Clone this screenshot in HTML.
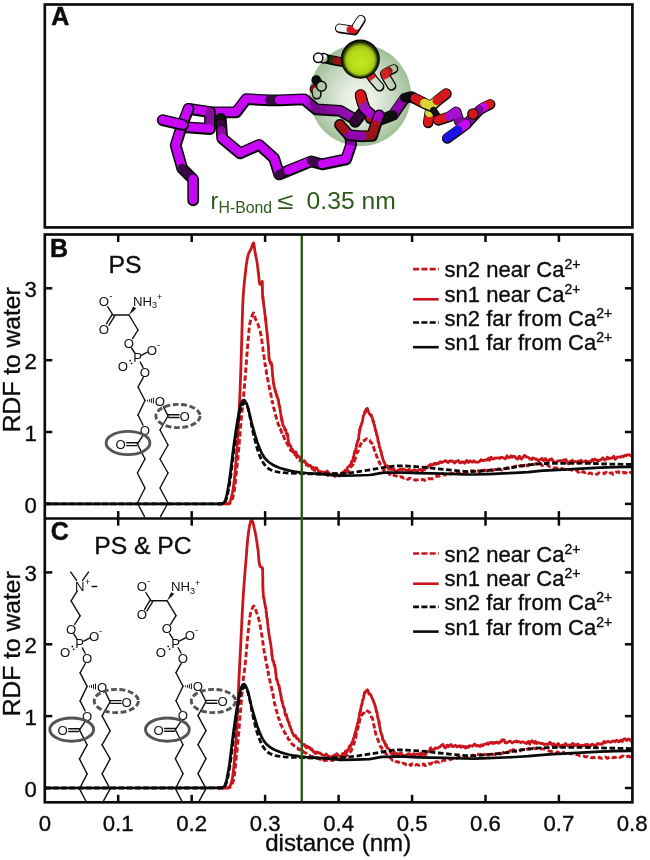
<!DOCTYPE html>
<html lang="en"><head><meta charset="utf-8"><title>RDF to water</title>
<style>html,body{margin:0;padding:0;background:#fff}body{width:650px;height:860px;overflow:hidden}svg{display:block}</style>
</head><body>
<svg width="650" height="860" viewBox="0 0 650 860" font-family="'Liberation Sans', sans-serif">
<rect width="650" height="860" fill="#fff"/>
<g id="panelA">
<defs>
<radialGradient id="sph" cx="0.5" cy="0.5" r="0.5" fx="0.5" fy="0.55">
<stop offset="0" stop-color="#f3f7f1"/>
<stop offset="0.3" stop-color="#e6eee2"/>
<stop offset="0.6" stop-color="#cbdcc5"/>
<stop offset="0.85" stop-color="#b2cbaa"/>
<stop offset="1" stop-color="#a0bf98"/>
</radialGradient>
<radialGradient id="ca" cx="0.5" cy="0.5" r="0.5" fx="0.5" fy="0.62">
<stop offset="0" stop-color="#c6e624"/>
<stop offset="0.55" stop-color="#b4da18"/>
<stop offset="0.72" stop-color="#a2c814"/>
<stop offset="0.80" stop-color="#6c8a0e"/>
<stop offset="0.88" stop-color="#263208"/>
<stop offset="0.95" stop-color="#0a0e03"/>
<stop offset="1" stop-color="#030401"/>
</radialGradient>
</defs>
<path d="M211.0,112.0 L236.0,112.0 L246.0,98.8 L269.0,100.0 L279.0,100.0 L304.0,99.0 L310.0,104.0 L316.0,109.0 L340.0,110.5 L353.0,118.0" stroke="#0a0a0a" stroke-width="11.8" fill="none" stroke-linecap="round" stroke-linejoin="round" transform="translate(0.2,0.4)"/>
<path d="M211.0,112.0 L236.0,112.0 L246.0,98.8 L269.0,100.0" stroke="#c706f6" stroke-width="8.4" fill="none" stroke-linecap="round" stroke-linejoin="round"/>
<path d="M269.0,100.0 L279.0,100.0" stroke="#3a0a44" stroke-width="8.4" fill="none" stroke-linecap="round" stroke-linejoin="round"/>
<path d="M279.0,100.0 L304.0,99.0 L310.0,104.0" stroke="#c706f6" stroke-width="8.4" fill="none" stroke-linecap="round" stroke-linejoin="round"/>
<path d="M310.0,104.0 L316.0,109.0 L340.0,110.5 L353.0,118.0" stroke="#a90cd2" stroke-width="8.4" fill="none" stroke-linecap="round" stroke-linejoin="round"/>
<path d="M355.0,121.5 L362.0,112.5" stroke="#0a0a0a" stroke-width="11.8" fill="none" stroke-linecap="round" stroke-linejoin="round" transform="translate(0.2,0.4)"/>
<path d="M355.0,121.5 L362.0,112.5" stroke="#3a0a44" stroke-width="8.4" fill="none" stroke-linecap="round" stroke-linejoin="round"/>
<path d="M370.5,118.0 L371.0,114.5 L365.0,109.0 L362.6,103.0 L360.4,94.8" stroke="#0a0a0a" stroke-width="11.8" fill="none" stroke-linecap="round" stroke-linejoin="round" transform="translate(0.2,0.4)"/>
<path d="M370.5,118.0 L371.0,114.5" stroke="#d4181c" stroke-width="8.4" fill="none" stroke-linecap="round" stroke-linejoin="round"/>
<path d="M371.0,114.5 L365.0,109.0 L362.6,103.0" stroke="#c706f6" stroke-width="8.4" fill="none" stroke-linecap="round" stroke-linejoin="round"/>
<path d="M362.6,103.0 L360.4,94.8" stroke="#d4181c" stroke-width="8.4" fill="none" stroke-linecap="round" stroke-linejoin="round"/>
<path d="M428.0,122.5 L429.5,113.0 L431.0,106.0" stroke="#0a0a0a" stroke-width="10.6" fill="none" stroke-linecap="round" stroke-linejoin="round" transform="translate(0.2,0.4)"/>
<path d="M428.0,122.5 L429.5,113.0" stroke="#d4181c" stroke-width="8.6" fill="none" stroke-linecap="round" stroke-linejoin="round"/>
<path d="M429.5,113.0 L431.0,106.0" stroke="#d6d63a" stroke-width="8.6" fill="none" stroke-linecap="round" stroke-linejoin="round"/>
<path d="M380.5,119.5 L393.0,114.6 L404.6,98.0 L411.5,96.4 L415.0,98.4 L424.5,103.2 L431.0,106.0 L437.0,100.5 L446.0,93.5" stroke="#0a0a0a" stroke-width="11.2" fill="none" stroke-linecap="round" stroke-linejoin="round" transform="translate(0.2,0.4)"/>
<path d="M393.0,114.6 L404.6,98.0" stroke="#c706f6" stroke-width="8.9" fill="none" stroke-linecap="round" stroke-linejoin="round"/>
<path d="M404.6,98.0 L411.5,96.4 L415.0,98.4" stroke="#111111" stroke-width="8.9" fill="none" stroke-linecap="round" stroke-linejoin="round"/>
<path d="M415.0,98.4 L424.5,103.2" stroke="#d4181c" stroke-width="8.9" fill="none" stroke-linecap="round" stroke-linejoin="round"/>
<path d="M424.5,103.2 L431.0,106.0 L437.0,100.5" stroke="#d6d63a" stroke-width="8.9" fill="none" stroke-linecap="round" stroke-linejoin="round"/>
<path d="M437.0,100.5 L446.0,93.5" stroke="#d4181c" stroke-width="8.9" fill="none" stroke-linecap="round" stroke-linejoin="round"/>
<path d="M380.5,119.5 L393.0,114.6" stroke="#111112" stroke-width="8.9" fill="none" stroke-linecap="round" stroke-linejoin="round"/>
<path d="M433.5,110.0 L436.5,114.5" stroke="#0a0a0a" stroke-width="6.4" fill="none" stroke-linecap="round" stroke-linejoin="round" transform="translate(0.2,0.4)"/>
<path d="M433.5,110.0 L436.5,114.5" stroke="#111111" stroke-width="6.4" fill="none" stroke-linecap="round" stroke-linejoin="round"/>
<path d="M220.6,118.5 L221.0,124.0 L221.5,130.5 L222.0,138.0 L240.0,153.0 L259.0,144.5 L274.0,158.0 L279.0,174.0 L288.0,170.4 L311.0,161.0 L322.0,164.0 L346.0,159.0 L351.0,144.0 L350.0,135.5" stroke="#0a0a0a" stroke-width="11.8" fill="none" stroke-linecap="round" stroke-linejoin="round" transform="translate(0.2,0.4)"/>
<path d="M220.6,118.5 L221.0,124.0" stroke="#111111" stroke-width="8.4" fill="none" stroke-linecap="round" stroke-linejoin="round"/>
<path d="M221.0,124.0 L221.5,130.5" stroke="#3a0a44" stroke-width="8.4" fill="none" stroke-linecap="round" stroke-linejoin="round"/>
<path d="M221.5,130.5 L222.0,138.0" stroke="#8a0e9c" stroke-width="8.4" fill="none" stroke-linecap="round" stroke-linejoin="round"/>
<path d="M222.0,138.0 L240.0,153.0 L259.0,144.5 L274.0,158.0 L279.0,174.0" stroke="#c706f6" stroke-width="8.4" fill="none" stroke-linecap="round" stroke-linejoin="round"/>
<path d="M279.0,174.0 L288.0,170.4" stroke="#3a0a44" stroke-width="8.4" fill="none" stroke-linecap="round" stroke-linejoin="round"/>
<path d="M288.0,170.4 L311.0,161.0" stroke="#c706f6" stroke-width="8.4" fill="none" stroke-linecap="round" stroke-linejoin="round"/>
<path d="M311.0,161.0 L322.0,164.0" stroke="#3a0a44" stroke-width="8.4" fill="none" stroke-linecap="round" stroke-linejoin="round"/>
<path d="M322.0,164.0 L346.0,159.0 L351.0,144.0 L350.0,135.5" stroke="#c706f6" stroke-width="8.4" fill="none" stroke-linecap="round" stroke-linejoin="round"/>
<path d="M379.0,115.0 L375.6,124.5 L372.0,135.5 L362.5,136.0 L349.0,135.0 L344.5,130.0 L339.8,124.6" stroke="#0a0a0a" stroke-width="11.8" fill="none" stroke-linecap="round" stroke-linejoin="round" transform="translate(0.2,0.4)"/>
<path d="M379.0,115.0 L375.6,124.5" stroke="#c706f6" stroke-width="8.4" fill="none" stroke-linecap="round" stroke-linejoin="round"/>
<path d="M375.6,124.5 L372.0,135.5 L362.5,136.0" stroke="#d4181c" stroke-width="8.4" fill="none" stroke-linecap="round" stroke-linejoin="round"/>
<path d="M362.5,136.0 L349.0,135.0 L344.5,130.0" stroke="#c706f6" stroke-width="8.4" fill="none" stroke-linecap="round" stroke-linejoin="round"/>
<path d="M344.5,130.0 L339.8,124.6" stroke="#d4181c" stroke-width="8.4" fill="none" stroke-linecap="round" stroke-linejoin="round"/>
<path d="M490.0,104.0 L483.5,107.2 L479.5,109.6 L466.0,124.0" stroke="#0a0a0a" stroke-width="10.6" fill="none" stroke-linecap="round" stroke-linejoin="round" transform="translate(0.2,0.4)"/>
<path d="M490.0,104.0 L483.5,107.2" stroke="#d4181c" stroke-width="8.6" fill="none" stroke-linecap="round" stroke-linejoin="round"/>
<path d="M483.5,107.2 L479.5,109.6" stroke="#c706f6" stroke-width="8.6" fill="none" stroke-linecap="round" stroke-linejoin="round"/>
<path d="M479.5,109.6 L466.0,124.0" stroke="#7c0c9c" stroke-width="8.6" fill="none" stroke-linecap="round" stroke-linejoin="round"/>
<path d="M438.0,120.0 L449.0,116.5 L456.0,111.5 L459.0,121.0 L466.0,124.0 L458.0,130.0 L447.0,138.0" stroke="#0a0a0a" stroke-width="10.6" fill="none" stroke-linecap="round" stroke-linejoin="round" transform="translate(0.2,0.4)"/>
<path d="M438.0,120.0 L449.0,116.5" stroke="#d4181c" stroke-width="8.6" fill="none" stroke-linecap="round" stroke-linejoin="round"/>
<path d="M449.0,116.5 L456.0,111.5 L459.0,121.0" stroke="#a40fd0" stroke-width="8.6" fill="none" stroke-linecap="round" stroke-linejoin="round"/>
<path d="M459.0,121.0 L466.0,124.0" stroke="#7c0c9c" stroke-width="8.6" fill="none" stroke-linecap="round" stroke-linejoin="round"/>
<path d="M466.0,124.0 L458.0,130.0" stroke="#c706f6" stroke-width="8.6" fill="none" stroke-linecap="round" stroke-linejoin="round"/>
<path d="M458.0,130.0 L447.0,138.0" stroke="#1c12e6" stroke-width="8.6" fill="none" stroke-linecap="round" stroke-linejoin="round"/>
<circle cx="473" cy="114" r="5.3" fill="#d4181c" stroke="#0a0a0a" stroke-width="1.1"/>
<path d="M188.4,108.4 L209.8,111.8 L209.8,128.6 L186.0,127.0" stroke="#0a0a0a" stroke-width="11.8" fill="none" stroke-linecap="round" stroke-linejoin="round" transform="translate(0.2,0.4)"/>
<path d="M188.4,108.4 L209.8,111.8" stroke="#c706f6" stroke-width="8.4" fill="none" stroke-linecap="round" stroke-linejoin="round"/>
<path d="M209.8,111.8 L209.8,128.6" stroke="#8a0e9c" stroke-width="8.4" fill="none" stroke-linecap="round" stroke-linejoin="round"/>
<path d="M209.8,128.6 L186.0,127.0" stroke="#c706f6" stroke-width="8.4" fill="none" stroke-linecap="round" stroke-linejoin="round"/>
<path d="M188.4,108.4 L181.5,126.0 L175.5,145.0 L182.0,168.0 L193.0,179.0 L193.0,200.0" stroke="#0a0a0a" stroke-width="11.8" fill="none" stroke-linecap="round" stroke-linejoin="round" transform="translate(0.2,0.4)"/>
<path d="M188.4,108.4 L181.5,126.0 L175.5,145.0 L182.0,168.0" stroke="#c706f6" stroke-width="8.4" fill="none" stroke-linecap="round" stroke-linejoin="round"/>
<path d="M182.0,168.0 L193.0,179.0" stroke="#3a0a44" stroke-width="8.4" fill="none" stroke-linecap="round" stroke-linejoin="round"/>
<path d="M193.0,179.0 L193.0,200.0" stroke="#c706f6" stroke-width="8.4" fill="none" stroke-linecap="round" stroke-linejoin="round"/>
<path d="M162.5,119.8 L183.0,124.6" stroke="#0a0a0a" stroke-width="11.8" fill="none" stroke-linecap="round" stroke-linejoin="round" transform="translate(0.2,0.4)"/>
<path d="M162.5,119.8 L183.0,124.6" stroke="#c706f6" stroke-width="8.4" fill="none" stroke-linecap="round" stroke-linejoin="round"/>
<path d="M339.5,28.0 L350.0,29.6 L354.0,30.2 L356.6,26.0 L360.8,19.4" stroke="#0a0a0a" stroke-width="9.6" fill="none" stroke-linecap="round" stroke-linejoin="round" transform="translate(0.2,0.4)"/>
<path d="M339.5,28.0 L350.0,29.6" stroke="#f6f6f6" stroke-width="7.0" fill="none" stroke-linecap="round" stroke-linejoin="round"/>
<path d="M350.0,29.6 L354.0,30.2 L356.6,26.0" stroke="#d4181c" stroke-width="7.0" fill="none" stroke-linecap="round" stroke-linejoin="round"/>
<path d="M356.6,26.0 L360.8,19.4" stroke="#f6f6f6" stroke-width="7.0" fill="none" stroke-linecap="round" stroke-linejoin="round"/>
<path d="M326.0,58.5 L332.0,59.8 L336.0,60.6 L343.0,62.0" stroke="#0a0a0a" stroke-width="9.6" fill="none" stroke-linecap="round" stroke-linejoin="round" transform="translate(0.2,0.4)"/>
<path d="M326.0,58.5 L332.0,59.8" stroke="#111111" stroke-width="7.0" fill="none" stroke-linecap="round" stroke-linejoin="round"/>
<path d="M332.0,59.8 L336.0,60.6" stroke="#33401f" stroke-width="7.0" fill="none" stroke-linecap="round" stroke-linejoin="round"/>
<path d="M336.0,60.6 L343.0,62.0" stroke="#d4181c" stroke-width="7.0" fill="none" stroke-linecap="round" stroke-linejoin="round"/>
<circle cx="323.6" cy="58.2" r="4.7" fill="#f6f6f6" stroke="#0a0a0a" stroke-width="1.5"/>
<circle cx="318.2" cy="57.8" r="4.7" fill="#f6f6f6" stroke="#0a0a0a" stroke-width="1.5"/>
<path d="M316.0,79.6 L318.5,84.0" stroke="#0a0a0a" stroke-width="9.6" fill="none" stroke-linecap="round" stroke-linejoin="round" transform="translate(0.2,0.4)"/>
<path d="M316.0,79.6 L318.5,84.0" stroke="#111111" stroke-width="7.0" fill="none" stroke-linecap="round" stroke-linejoin="round"/>
<path d="M314.2,88.6 L316.4,91.0 L316.6,94.4" stroke="#0a0a0a" stroke-width="9.6" fill="none" stroke-linecap="round" stroke-linejoin="round" transform="translate(0.2,0.4)"/>
<path d="M314.2,88.6 L316.4,91.0" stroke="#d4181c" stroke-width="7.0" fill="none" stroke-linecap="round" stroke-linejoin="round"/>
<path d="M316.4,91.0 L316.6,94.4" stroke="#f6f6f6" stroke-width="7.0" fill="none" stroke-linecap="round" stroke-linejoin="round"/>
<circle cx="321.4" cy="86.2" r="4.9" fill="#f6f6f6" stroke="#0a0a0a" stroke-width="1.5"/>
<path d="M368.0,72.0 L373.0,79.0 L379.4,86.4" stroke="#0a0a0a" stroke-width="9.6" fill="none" stroke-linecap="round" stroke-linejoin="round" transform="translate(0.2,0.4)"/>
<path d="M368.0,72.0 L373.0,79.0" stroke="#d4181c" stroke-width="7.0" fill="none" stroke-linecap="round" stroke-linejoin="round"/>
<path d="M373.0,79.0 L379.4,86.4" stroke="#f6f6f6" stroke-width="7.0" fill="none" stroke-linecap="round" stroke-linejoin="round"/>
<path d="M393.4,68.6 L389.0,70.6 L384.6,73.4 L387.0,78.4 L391.4,85.6" stroke="#0a0a0a" stroke-width="9.6" fill="none" stroke-linecap="round" stroke-linejoin="round" transform="translate(0.2,0.4)"/>
<path d="M393.4,68.6 L389.0,70.6" stroke="#f6f6f6" stroke-width="7.0" fill="none" stroke-linecap="round" stroke-linejoin="round"/>
<path d="M389.0,70.6 L384.6,73.4 L387.0,78.4" stroke="#d4181c" stroke-width="7.0" fill="none" stroke-linecap="round" stroke-linejoin="round"/>
<path d="M387.0,78.4 L391.4,85.6" stroke="#f6f6f6" stroke-width="7.0" fill="none" stroke-linecap="round" stroke-linejoin="round"/>
<circle cx="360.2" cy="95.3" r="50.8" fill="url(#sph)" style="mix-blend-mode:multiply"/>
<path d="M362.6,103.0 L360.4,94.8" stroke="#0a0a0a" stroke-width="11.6" fill="none" stroke-linecap="round" stroke-linejoin="round" transform="translate(0.2,0.4)"/>
<path d="M362.6,103.0 L360.4,94.8" stroke="#d4181c" stroke-width="9.4" fill="none" stroke-linecap="round" stroke-linejoin="round"/>
<path d="M365,109 L362.6,103" stroke="#9a1aae" stroke-width="9.4" stroke-linecap="butt" fill="none"/>
<path d="M368,72 L373,79" stroke="#cf2420" stroke-width="7.4" fill="none"/>
<path d="M389,70.6 L384.6,73.4 L387,78.4" stroke="#cf2420" stroke-width="7.4" fill="none" stroke-linejoin="round"/>
<circle cx="360.3" cy="59.1" r="19.6" fill="url(#ca)"/>
<g fill="#2d5a1b"><text x="210.5" y="209" font-size="23.5">r</text><text x="218.6" y="213.2" font-size="15.8">H-Bond</text><text transform="translate(277.2,209) scale(1.25,1)" font-size="23.5">≤</text><text x="306.6" y="209" font-size="24.7">0.35 nm</text></g>
</g>
<g id="chem">
<g stroke="#111" stroke-width="1.4" stroke-linecap="round" fill="none">
<line x1="107.8" y1="306.8" x2="113.0" y2="315.0"/>
<line x1="113.0" y1="315.0" x2="129.0" y2="315.0"/>
<line x1="112.2" y1="314.4" x2="106.6" y2="323.6"/>
<line x1="114.6" y1="316.2" x2="109.0" y2="325.2"/>
<line x1="129.0" y1="315.0" x2="138.0" y2="330.0"/>
<line x1="138.0" y1="330.0" x2="132.6" y2="338.6"/>
<line x1="131.6" y1="348.0" x2="134.8" y2="353.0"/>
<line x1="141.8" y1="355.2" x2="147.4" y2="352.2"/>
<line x1="140.2" y1="362.0" x2="143.0" y2="367.4"/>
<line x1="143.2" y1="377.6" x2="138.0" y2="387.0"/>
<line x1="138.0" y1="387.0" x2="145.0" y2="400.5"/>
<line x1="145.0" y1="400.5" x2="138.0" y2="415.0"/>
<line x1="138.0" y1="415.0" x2="143.0" y2="425.0"/>
<line x1="143.2" y1="435.2" x2="137.4" y2="444.0"/>
<line x1="126.6" y1="442.8" x2="137.4" y2="442.8"/>
<line x1="126.6" y1="445.6" x2="136.6" y2="445.6"/>
<line x1="137.4" y1="444.0" x2="145.0" y2="459.0"/>
<line x1="145.0" y1="459.0" x2="137.4" y2="473.0"/>
<line x1="137.4" y1="473.0" x2="145.0" y2="488.0"/>
<line x1="145.0" y1="488.0" x2="137.4" y2="503.0"/>
<line x1="137.4" y1="503.0" x2="144.4" y2="516.4"/>
<line x1="163.4" y1="406.4" x2="168.0" y2="416.0"/>
<line x1="168.0" y1="414.7" x2="179.0" y2="414.7"/>
<line x1="168.8" y1="417.5" x2="179.0" y2="417.5"/>
<line x1="168.0" y1="416.0" x2="160.0" y2="430.0"/>
<line x1="160.0" y1="430.0" x2="168.0" y2="445.0"/>
<line x1="168.0" y1="445.0" x2="160.0" y2="459.0"/>
<line x1="160.0" y1="459.0" x2="168.0" y2="473.0"/>
<line x1="168.0" y1="473.0" x2="160.0" y2="488.0"/>
<line x1="160.0" y1="488.0" x2="168.0" y2="503.0"/>
<line x1="168.0" y1="503.0" x2="160.6" y2="516.4"/>
</g>
<g fill="#111"><circle cx="130.2" cy="360.6" r="0.9"/><circle cx="131.6" cy="363.4" r="0.9"/></g>
<g stroke="#111" stroke-width="1" fill="none">
<line x1="147.4" y1="399.8" x2="147.4" y2="401.4"/>
<line x1="149.4" y1="399.1" x2="149.4" y2="402.1"/>
<line x1="151.4" y1="398.4" x2="151.4" y2="402.8"/>
<line x1="153.4" y1="397.7" x2="153.4" y2="403.5"/>
</g>
<polygon fill="#111" points="129.0,315.0 133.2,306.6 136.2,308.4"/>
<g fill="#111" font-family="'Liberation Sans', sans-serif">
<text x="104.0" y="305.7" font-size="13.2" text-anchor="middle">O</text>
<text x="110.8" y="298.6" font-size="9.5" text-anchor="middle">-</text>
<text x="104.0" y="333.7" font-size="13.2" text-anchor="middle">O</text>
<text x="133.0" y="305.6" font-size="13.2">NH<tspan font-size="9" dy="2.6">3</tspan><tspan font-size="9" dy="-8">+</tspan></text>
<text x="129.0" y="347.7" font-size="13.2" text-anchor="middle">O</text>
<text x="137.6" y="362.0" font-size="13.2" text-anchor="middle">P</text>
<text x="152.0" y="354.7" font-size="13.2" text-anchor="middle">O</text>
<text x="158.6" y="347.6" font-size="9.5" text-anchor="middle">-</text>
<text x="123.0" y="371.1" font-size="13.2" text-anchor="middle">O</text>
<text x="145.0" y="377.1" font-size="13.2" text-anchor="middle">O</text>
<text x="160.0" y="405.7" font-size="13.2" text-anchor="middle">O</text>
<text x="145.0" y="434.7" font-size="13.2" text-anchor="middle">O</text>
<text x="120.6" y="449.1" font-size="13.2" text-anchor="middle">O</text>
<text x="184.6" y="420.7" font-size="13.2" text-anchor="middle">O</text>
</g>
<ellipse cx="128.0" cy="443.0" rx="21.9" ry="11.6" fill="none" stroke="#545454" stroke-width="2.9"/>
<ellipse cx="178.0" cy="416.0" rx="22.1" ry="11.6" fill="none" stroke="#545454" stroke-width="2.9" stroke-dasharray="5.8 2.6"/>
<g stroke="#111" stroke-width="1.4" stroke-linecap="round" fill="none">
<line x1="76.6" y1="580.4" x2="70.7" y2="572.1"/>
<line x1="82.6" y1="580.4" x2="88.5" y2="572.1"/>
<line x1="92.1" y1="586.5" x2="96.7" y2="586.5"/>
<line x1="77.3" y1="590.9" x2="71.1" y2="600.9"/>
<line x1="71.1" y1="600.9" x2="80.1" y2="615.9"/>
<line x1="80.1" y1="615.9" x2="74.7" y2="624.5"/>
<line x1="73.7" y1="633.9" x2="76.9" y2="638.9"/>
<line x1="83.9" y1="641.1" x2="89.5" y2="638.1"/>
<line x1="82.3" y1="647.9" x2="85.1" y2="653.3"/>
<line x1="85.3" y1="663.5" x2="80.1" y2="672.9"/>
<line x1="80.1" y1="672.9" x2="87.1" y2="686.4"/>
<line x1="87.1" y1="686.4" x2="80.1" y2="700.9"/>
<line x1="80.1" y1="700.9" x2="85.1" y2="710.9"/>
<line x1="85.3" y1="721.1" x2="79.5" y2="729.9"/>
<line x1="68.7" y1="728.7" x2="79.5" y2="728.7"/>
<line x1="68.7" y1="731.5" x2="78.7" y2="731.5"/>
<line x1="79.5" y1="729.9" x2="87.1" y2="744.9"/>
<line x1="87.1" y1="744.9" x2="79.5" y2="758.9"/>
<line x1="79.5" y1="758.9" x2="87.1" y2="773.9"/>
<line x1="87.1" y1="773.9" x2="79.5" y2="788.9"/>
<line x1="79.5" y1="788.9" x2="86.5" y2="802.3"/>
<line x1="105.5" y1="692.3" x2="110.1" y2="701.9"/>
<line x1="110.1" y1="700.6" x2="121.1" y2="700.6"/>
<line x1="110.9" y1="703.4" x2="121.1" y2="703.4"/>
<line x1="110.1" y1="701.9" x2="102.1" y2="715.9"/>
<line x1="102.1" y1="715.9" x2="110.1" y2="730.9"/>
<line x1="110.1" y1="730.9" x2="102.1" y2="744.9"/>
<line x1="102.1" y1="744.9" x2="110.1" y2="758.9"/>
<line x1="110.1" y1="758.9" x2="102.1" y2="773.9"/>
<line x1="102.1" y1="773.9" x2="110.1" y2="788.9"/>
<line x1="110.1" y1="788.9" x2="102.7" y2="802.3"/>
</g>
<g fill="#111"><circle cx="72.3" cy="646.5" r="0.9"/><circle cx="73.7" cy="649.3" r="0.9"/></g>
<g stroke="#111" stroke-width="1" fill="none">
<line x1="89.5" y1="685.7" x2="89.5" y2="687.3"/>
<line x1="91.5" y1="685.0" x2="91.5" y2="688.0"/>
<line x1="93.5" y1="684.3" x2="93.5" y2="688.7"/>
<line x1="95.5" y1="683.6" x2="95.5" y2="689.4"/>
</g>
<g fill="#111" font-family="'Liberation Sans', sans-serif">
<text x="79.7" y="591.1" font-size="13.2" text-anchor="middle">N</text>
<text x="87.7" y="585.3" font-size="9" text-anchor="middle">+</text>
<text x="71.1" y="633.6" font-size="13.2" text-anchor="middle">O</text>
<text x="79.7" y="647.9" font-size="13.2" text-anchor="middle">P</text>
<text x="94.1" y="640.6" font-size="13.2" text-anchor="middle">O</text>
<text x="100.7" y="633.5" font-size="9.5" text-anchor="middle">-</text>
<text x="65.1" y="657.0" font-size="13.2" text-anchor="middle">O</text>
<text x="87.1" y="663.0" font-size="13.2" text-anchor="middle">O</text>
<text x="102.1" y="691.6" font-size="13.2" text-anchor="middle">O</text>
<text x="87.1" y="720.6" font-size="13.2" text-anchor="middle">O</text>
<text x="62.7" y="735.0" font-size="13.2" text-anchor="middle">O</text>
<text x="126.7" y="706.6" font-size="13.2" text-anchor="middle">O</text>
</g>
<ellipse cx="71.7" cy="729.6" rx="21.9" ry="11.6" fill="none" stroke="#545454" stroke-width="2.9"/>
<ellipse cx="116.3" cy="701.0" rx="22.1" ry="11.6" fill="none" stroke="#545454" stroke-width="2.9" stroke-dasharray="5.8 2.6"/>
<g stroke="#111" stroke-width="1.4" stroke-linecap="round" fill="none">
<line x1="145.8" y1="592.5" x2="151.0" y2="600.7"/>
<line x1="151.0" y1="600.7" x2="167.0" y2="600.7"/>
<line x1="150.2" y1="600.1" x2="144.6" y2="609.3"/>
<line x1="152.6" y1="601.9" x2="147.0" y2="610.9"/>
<line x1="167.0" y1="600.7" x2="176.0" y2="615.7"/>
<line x1="176.0" y1="615.7" x2="170.6" y2="624.3"/>
<line x1="169.6" y1="633.7" x2="172.8" y2="638.7"/>
<line x1="179.8" y1="640.9" x2="185.4" y2="637.9"/>
<line x1="178.2" y1="647.7" x2="181.0" y2="653.1"/>
<line x1="181.2" y1="663.3" x2="176.0" y2="672.7"/>
<line x1="176.0" y1="672.7" x2="183.0" y2="686.2"/>
<line x1="183.0" y1="686.2" x2="176.0" y2="700.7"/>
<line x1="176.0" y1="700.7" x2="181.0" y2="710.7"/>
<line x1="181.2" y1="720.9" x2="175.4" y2="729.7"/>
<line x1="164.6" y1="728.5" x2="175.4" y2="728.5"/>
<line x1="164.6" y1="731.3" x2="174.6" y2="731.3"/>
<line x1="175.4" y1="729.7" x2="183.0" y2="744.7"/>
<line x1="183.0" y1="744.7" x2="175.4" y2="758.7"/>
<line x1="175.4" y1="758.7" x2="183.0" y2="773.7"/>
<line x1="183.0" y1="773.7" x2="175.4" y2="788.7"/>
<line x1="175.4" y1="788.7" x2="182.4" y2="802.1"/>
<line x1="201.4" y1="692.1" x2="206.0" y2="701.7"/>
<line x1="206.0" y1="700.4" x2="217.0" y2="700.4"/>
<line x1="206.8" y1="703.2" x2="217.0" y2="703.2"/>
<line x1="206.0" y1="701.7" x2="198.0" y2="715.7"/>
<line x1="198.0" y1="715.7" x2="206.0" y2="730.7"/>
<line x1="206.0" y1="730.7" x2="198.0" y2="744.7"/>
<line x1="198.0" y1="744.7" x2="206.0" y2="758.7"/>
<line x1="206.0" y1="758.7" x2="198.0" y2="773.7"/>
<line x1="198.0" y1="773.7" x2="206.0" y2="788.7"/>
<line x1="206.0" y1="788.7" x2="198.6" y2="802.1"/>
</g>
<g fill="#111"><circle cx="168.2" cy="646.3" r="0.9"/><circle cx="169.6" cy="649.1" r="0.9"/></g>
<g stroke="#111" stroke-width="1" fill="none">
<line x1="185.4" y1="685.5" x2="185.4" y2="687.1"/>
<line x1="187.4" y1="684.8" x2="187.4" y2="687.8"/>
<line x1="189.4" y1="684.1" x2="189.4" y2="688.5"/>
<line x1="191.4" y1="683.4" x2="191.4" y2="689.2"/>
</g>
<polygon fill="#111" points="167.0,600.7 171.2,592.3 174.2,594.1"/>
<g fill="#111" font-family="'Liberation Sans', sans-serif">
<text x="142.0" y="591.4" font-size="13.2" text-anchor="middle">O</text>
<text x="148.8" y="584.3" font-size="9.5" text-anchor="middle">-</text>
<text x="142.0" y="619.4" font-size="13.2" text-anchor="middle">O</text>
<text x="171.0" y="591.3" font-size="13.2">NH<tspan font-size="9" dy="2.6">3</tspan><tspan font-size="9" dy="-8">+</tspan></text>
<text x="167.0" y="633.4" font-size="13.2" text-anchor="middle">O</text>
<text x="175.6" y="647.7" font-size="13.2" text-anchor="middle">P</text>
<text x="190.0" y="640.4" font-size="13.2" text-anchor="middle">O</text>
<text x="196.6" y="633.3" font-size="9.5" text-anchor="middle">-</text>
<text x="161.0" y="656.8" font-size="13.2" text-anchor="middle">O</text>
<text x="183.0" y="662.8" font-size="13.2" text-anchor="middle">O</text>
<text x="198.0" y="691.4" font-size="13.2" text-anchor="middle">O</text>
<text x="183.0" y="720.4" font-size="13.2" text-anchor="middle">O</text>
<text x="158.6" y="734.8" font-size="13.2" text-anchor="middle">O</text>
<text x="222.6" y="706.4" font-size="13.2" text-anchor="middle">O</text>
</g>
<ellipse cx="167.4" cy="729.6" rx="21.9" ry="11.6" fill="none" stroke="#545454" stroke-width="2.9"/>
<ellipse cx="213.4" cy="701.0" rx="22.1" ry="11.6" fill="none" stroke="#545454" stroke-width="2.9" stroke-dasharray="5.8 2.6"/>
</g>
<g fill="none" stroke-linejoin="round">
<path d="M218.0,503.9 L225.0,503.9 L225.8,503.9 L226.6,503.9 L227.4,503.8 L228.1,503.8 L228.8,503.8 L229.5,503.6 L230.2,502.9 L230.7,502.0 L231.2,501.2 L231.6,500.4 L232.0,499.6 L232.3,498.8 L232.7,497.9 L233.0,497.0 L233.2,496.2 L233.4,495.3 L233.6,494.4 L233.8,493.6 L234.0,492.7 L234.1,491.8 L234.3,490.9 L234.4,490.1 L234.5,489.2 L234.6,488.3 L234.8,487.4 L234.9,486.5 L235.0,485.6 L235.1,484.7 L235.2,483.8 L235.3,482.9 L235.4,482.0 L235.5,481.1 L235.5,480.2 L235.6,479.3 L235.7,478.4 L235.8,477.5 L235.9,476.6 L236.0,475.7 L236.1,474.8 L236.2,473.9 L236.3,473.0 L236.4,472.1 L236.5,471.2 L236.6,470.3 L236.7,469.4 L236.8,468.5 L236.9,467.6 L237.0,466.7 L237.1,465.8 L237.2,464.9 L237.3,464.0 L237.4,463.2 L237.5,462.3 L237.6,461.4 L237.7,460.5 L237.8,459.6 L237.9,458.7 L237.9,457.8 L238.0,456.9 L238.1,456.0 L238.2,455.1 L238.3,454.2 L238.4,453.3 L238.5,452.4 L238.5,451.5 L238.6,450.6 L238.7,449.7 L238.8,448.8 L238.9,447.9 L238.9,447.0 L239.0,446.1 L239.1,445.2 L239.2,444.3 L239.2,443.4 L239.3,442.5 L239.4,441.6 L239.5,440.7 L239.5,439.9 L239.6,439.0 L239.7,438.1 L239.7,437.2 L239.8,436.3 L239.9,435.4 L240.0,434.5 L240.0,433.6 L240.1,432.7 L240.2,431.8 L240.2,430.9 L240.3,430.0 L240.4,429.1 L240.5,428.2 L240.5,427.3 L240.6,426.4 L240.7,425.5 L240.8,424.6 L240.8,423.7 L240.9,422.8 L241.0,421.9 L241.1,421.0 L241.2,420.1 L241.3,419.2 L241.3,418.3 L241.4,417.4 L241.5,416.5 L241.6,415.6 L241.7,414.7 L241.8,413.8 L241.9,413.0 L242.0,412.1 L242.1,411.2 L242.2,410.3 L242.3,409.4 L242.4,408.5 L242.4,407.6 L242.5,406.7 L242.6,405.8 L242.7,404.9 L242.8,404.0 L242.9,403.1 L243.0,402.2 L243.1,401.3 L243.2,400.4 L243.2,399.5 L243.3,398.6 L243.4,397.7 L243.5,396.8 L243.6,395.9 L243.7,395.0 L243.7,394.1 L243.8,393.2 L243.9,392.4 L244.0,391.5 L244.1,390.6 L244.1,389.7 L244.2,388.8 L244.3,387.9 L244.4,387.0 L244.5,386.1 L244.6,385.2 L244.6,384.3 L244.7,383.4 L244.8,382.5 L244.9,381.6 L244.9,380.7 L245.0,379.8 L245.1,378.9 L245.2,378.0 L245.2,377.1 L245.3,376.2 L245.4,375.3 L245.5,374.4 L245.5,373.5 L245.6,372.6 L245.7,371.7 L245.7,370.8 L245.8,369.9 L245.9,369.0 L245.9,368.1 L246.0,367.2 L246.1,366.3 L246.1,365.4 L246.2,364.5 L246.3,363.6 L246.3,362.8 L246.4,361.9 L246.5,361.0 L246.5,360.1 L246.6,359.2 L246.7,358.3 L246.7,357.4 L246.8,356.5 L246.9,355.6 L246.9,354.7 L247.0,353.8 L247.1,352.9 L247.2,352.0 L247.2,351.1 L247.3,350.2 L247.4,349.3 L247.4,348.4 L247.5,347.5 L247.6,346.6 L247.7,345.7 L247.7,344.8 L247.8,343.9 L247.9,343.0 L248.0,342.1 L248.1,341.2 L248.1,340.3 L248.2,339.4 L248.3,338.5 L248.4,337.6 L248.5,336.7 L248.5,335.8 L248.6,334.9 L248.7,334.0 L248.8,333.1 L248.9,332.2 L248.9,331.3 L249.0,330.4 L249.1,329.5 L249.2,328.6 L249.3,327.7 L249.4,326.9 L249.6,326.0 L249.7,325.1 L249.8,324.2 L249.9,323.3 L250.1,322.4 L250.3,321.6 L250.5,320.7 L250.7,319.8 L251.0,318.9 L251.3,318.1 L251.5,317.2 L251.9,316.4 L252.2,315.5 L252.6,314.5 L253.1,313.5 L253.5,313.0 L253.8,313.1 L254.1,313.7 L254.4,314.5 L254.6,315.6 L254.9,316.7 L255.1,317.8 L255.4,318.8 L255.8,319.6 L256.1,320.5 L256.5,321.3 L256.9,322.1 L257.3,322.9 L257.7,323.7 L258.0,324.6 L258.3,325.4 L258.6,326.2 L258.9,327.1 L259.2,328.0 L259.5,328.8 L259.7,329.7 L260.0,330.6 L260.2,331.4 L260.4,332.3 L260.6,333.2 L260.8,334.1 L261.0,334.9 L261.1,335.8 L261.3,336.7 L261.4,337.6 L261.6,338.5 L261.7,339.4 L261.8,340.3 L261.9,341.2 L262.0,341.8 L262.1,343.1 L262.2,343.9 L262.3,345.2 L262.4,346.6 L262.6,347.0 L262.7,347.6 L262.8,347.9 L262.9,348.6 L263.0,349.6 L263.1,350.4 L263.3,351.6 L263.4,352.3 L263.5,353.2 L263.6,353.6 L263.8,354.3 L263.9,355.6 L264.0,356.5 L264.2,357.5 L264.3,358.6 L264.4,359.8 L264.6,361.5 L264.7,362.6 L264.8,363.1 L265.0,363.7 L265.1,364.8 L265.2,364.4 L265.4,364.9 L265.5,366.8 L265.7,367.9 L265.8,368.7 L265.9,369.4 L266.1,369.6 L266.2,370.8 L266.4,372.9 L266.6,373.8 L266.7,374.3 L266.9,375.7 L267.0,375.6 L267.2,376.4 L267.4,377.5 L267.5,377.9 L267.7,379.0 L267.9,380.1 L268.0,381.1 L268.2,382.5 L268.4,383.2 L268.6,383.3 L268.7,384.3 L268.9,385.6 L269.1,386.4 L269.3,387.1 L269.5,388.5 L269.6,389.5 L269.8,390.0 L270.0,390.9 L270.2,390.9 L270.4,391.7 L270.6,393.4 L270.8,393.9 L270.9,394.6 L271.1,395.8 L271.3,396.7 L271.5,397.8 L271.7,398.1 L271.9,399.8 L272.1,402.1 L272.3,401.7 L272.5,401.5 L272.7,403.3 L272.9,404.7 L273.1,405.8 L273.3,406.0 L273.5,406.7 L273.7,408.3 L273.9,408.8 L274.1,408.7 L274.4,410.3 L274.6,411.3 L274.8,412.4 L275.0,413.0 L275.2,414.1 L275.5,414.9 L275.7,415.8 L275.9,416.4 L276.2,417.0 L276.4,418.1 L276.7,419.3 L276.9,420.4 L277.2,421.6 L277.5,422.1 L277.8,423.1 L278.1,424.3 L278.4,424.5 L278.7,425.1 L279.0,425.5 L279.3,426.8 L279.6,428.3 L280.0,428.9 L280.3,429.7 L280.7,429.4 L281.0,430.0 L281.4,431.3 L281.7,432.2 L282.1,434.5 L282.5,434.9 L282.8,434.4 L283.2,435.3 L283.6,436.2 L284.0,437.4 L284.4,438.3 L284.8,439.6 L285.2,440.6 L285.6,440.5 L286.1,440.8 L286.5,442.2 L286.9,443.1 L287.4,444.2 L287.8,444.7 L288.3,445.7 L288.7,446.3 L289.2,446.7 L289.7,447.4 L290.2,449.0 L290.7,450.5 L291.2,450.5 L291.8,450.6 L292.3,451.5 L292.9,451.8 L293.5,452.0 L294.0,453.5 L294.6,454.7 L295.2,454.5 L295.8,454.8 L296.4,456.3 L297.0,457.8 L297.7,458.2 L298.3,459.0 L298.9,460.1 L299.5,460.5 L300.2,460.4 L300.9,460.5 L301.5,461.1 L302.2,461.8 L302.9,462.5 L303.6,462.8 L304.3,464.0 L305.0,464.2 L305.7,464.5 L306.4,465.1 L307.1,464.6 L307.9,465.3 L308.6,466.3 L309.4,467.3 L310.1,467.7 L310.9,468.6 L311.7,468.6 L312.5,469.0 L313.2,469.3 L314.0,470.2 L314.8,470.4 L315.7,470.8 L316.5,470.7 L317.3,470.8 L318.1,471.7 L319.0,472.5 L319.8,471.9 L320.6,471.8 L321.5,472.7 L322.3,473.4 L323.2,473.0 L324.1,473.3 L325.0,473.9 L325.8,474.1 L326.7,474.7 L327.6,475.2 L328.5,474.9 L329.4,475.0 L330.3,475.4 L331.2,475.1 L332.1,474.7 L333.0,474.6 L333.9,475.1 L334.8,476.4 L335.7,476.1 L336.6,476.2 L337.5,476.2 L338.4,475.7 L339.3,476.1 L340.1,475.5 L341.0,474.7 L341.8,475.0 L342.7,474.6 L343.5,474.5 L344.3,474.7 L345.0,474.8 L345.8,473.3 L346.5,472.5 L347.1,472.3 L347.8,471.6 L348.4,470.6 L349.0,469.4 L349.6,468.7 L350.2,468.3 L350.8,467.2 L351.3,466.5 L351.7,465.9 L352.2,465.8 L352.6,464.7 L353.0,464.7 L353.4,463.2 L353.7,461.7 L354.1,461.0 L354.4,461.2 L354.7,460.5 L355.0,458.9 L355.4,458.3 L355.7,457.3 L356.0,456.4 L356.3,455.8 L356.6,454.9 L357.0,452.8 L357.3,451.8 L357.7,452.0 L358.0,451.6 L358.3,450.6 L358.6,448.8 L358.9,448.3 L359.3,448.3 L359.6,446.7 L359.9,446.1 L360.3,445.0 L360.7,444.1 L361.1,443.3 L361.5,443.2 L362.0,441.5 L362.6,440.7 L363.3,440.6 L364.0,440.8 L364.8,440.1 L365.5,439.5 L366.3,438.9 L367.0,438.9 L367.7,439.5 L368.4,440.2 L369.1,440.1 L369.8,440.3 L370.4,441.9 L371.0,442.5 L371.5,442.7 L372.0,443.5 L372.4,444.5 L372.7,446.3 L373.1,446.1 L373.4,446.1 L373.7,447.7 L374.0,448.7 L374.3,450.2 L374.6,450.6 L374.8,450.5 L375.1,451.7 L375.4,452.5 L375.7,453.5 L376.0,454.2 L376.3,454.8 L376.7,456.3 L377.0,456.9 L377.4,457.9 L377.7,459.7 L378.1,460.9 L378.5,461.1 L378.9,462.1 L379.3,461.9 L379.7,463.1 L380.1,463.9 L380.6,464.6 L381.0,465.0 L381.5,465.8 L382.0,466.7 L382.6,467.6 L383.1,469.0 L383.7,470.3 L384.4,470.0 L385.0,470.1 L385.7,470.0 L386.4,470.6 L387.1,472.5 L387.8,472.4 L388.5,472.8 L389.2,473.9 L390.0,474.7 L390.8,475.1 L391.6,475.8 L392.4,475.1 L393.3,474.6 L394.2,475.5 L395.0,475.9 L395.9,475.8 L396.8,476.1 L397.7,476.6 L398.7,477.6 L399.5,476.9 L400.4,476.6 L401.3,477.1 L402.2,476.9 L403.1,477.8 L404.0,478.1 L404.8,477.7 L405.7,477.8 L406.6,478.4 L407.5,479.4 L408.4,479.1 L409.3,478.2 L410.2,478.3 L411.1,479.0 L412.0,479.2 L412.9,479.1 L413.8,479.5 L414.7,479.8 L415.6,480.3 L416.5,480.1 L417.4,479.8 L418.3,479.7 L419.2,479.5 L420.1,480.1 L421.0,480.0 L421.9,479.6 L422.8,479.5 L423.7,479.7 L424.6,480.5 L425.5,479.6 L426.4,479.5 L427.2,479.2 L428.1,478.7 L429.0,478.7 L429.9,478.6 L430.8,478.7 L431.7,478.7 L432.5,478.8 L433.4,478.5 L434.3,477.6 L435.1,477.1 L436.0,476.7 L436.9,476.1 L437.7,475.7 L438.6,476.3 L439.4,476.0 L440.3,475.4 L441.1,474.4 L442.0,473.8 L442.9,473.5 L443.8,474.5 L444.6,475.1 L445.5,474.9 L446.4,474.2 L447.3,473.6 L448.2,473.8 L449.1,473.9 L449.9,474.1 L450.8,473.9 L451.7,473.3 L452.6,473.3 L453.5,473.5 L454.4,473.3 L455.3,472.5 L456.2,471.5 L457.1,472.1 L458.0,472.8 L458.9,472.8 L459.8,472.7 L460.7,472.2 L461.6,472.3 L462.4,472.6 L463.3,472.5 L464.2,472.4 L465.1,472.7 L466.0,472.8 L466.9,472.4 L467.8,471.0 L468.7,471.0 L469.6,471.2 L470.5,471.0 L471.4,470.7 L472.3,471.5 L473.2,471.0 L474.1,470.7 L475.0,469.9 L475.9,470.4 L476.8,470.7 L477.7,470.6 L478.6,471.5 L479.5,472.0 L480.4,470.6 L481.3,470.4 L482.2,471.5 L483.1,471.1 L484.0,470.3 L484.9,469.9 L485.8,470.6 L486.7,470.9 L487.6,471.0 L488.5,470.1 L489.4,469.9 L490.3,469.9 L491.2,470.1 L492.1,470.6 L493.0,470.4 L493.9,469.7 L494.8,469.6 L495.7,469.7 L496.6,470.0 L497.5,469.4 L498.4,468.8 L499.2,469.0 L500.1,469.3 L501.0,469.8 L501.9,470.0 L502.8,469.8 L503.7,469.1 L504.6,468.5 L505.5,468.7 L506.4,468.3 L507.3,467.9 L508.2,468.2 L509.0,468.3 L509.9,468.1 L510.8,467.1 L511.7,466.6 L512.6,467.2 L513.5,467.0 L514.4,467.2 L515.3,466.4 L516.2,466.0 L517.0,466.0 L517.9,467.1 L518.8,466.4 L519.7,466.0 L520.6,465.7 L521.5,465.8 L522.4,466.2 L523.3,465.8 L524.2,465.7 L525.1,465.8 L526.0,465.0 L526.8,465.8 L527.7,465.8 L528.6,464.6 L529.5,464.5 L530.4,463.8 L531.3,463.2 L532.2,463.8 L533.1,464.6 L534.0,464.7 L534.9,464.0 L535.8,463.6 L536.7,463.6 L537.6,463.5 L538.5,463.2 L539.4,462.7 L540.3,463.5 L541.1,464.4 L542.0,465.5 L542.9,465.2 L543.7,464.8 L544.6,465.1 L545.5,465.4 L546.3,465.0 L547.2,464.7 L548.1,465.5 L549.0,466.3 L549.8,466.7 L550.7,466.6 L551.6,466.7 L552.4,467.2 L553.3,467.7 L554.2,468.0 L555.1,468.0 L556.0,468.1 L556.9,467.9 L557.8,468.5 L558.6,468.3 L559.5,467.8 L560.4,468.3 L561.3,468.6 L562.2,468.5 L563.1,469.1 L564.0,469.1 L564.9,469.2 L565.8,468.9 L566.7,469.5 L567.6,469.8 L568.5,469.4 L569.4,469.4 L570.3,469.5 L571.2,470.0 L572.1,470.1 L573.0,470.3 L573.9,470.1 L574.8,469.5 L575.6,469.6 L576.5,470.3 L577.4,471.3 L578.3,472.3 L579.2,471.8 L580.1,470.9 L581.0,470.5 L581.9,471.7 L582.7,471.8 L583.6,471.7 L584.5,472.6 L585.4,472.6 L586.3,472.2 L587.2,472.0 L588.1,473.2 L588.9,473.3 L589.8,473.1 L590.7,472.9 L591.6,473.4 L592.5,474.2 L593.4,474.4 L594.3,474.9 L595.2,474.6 L596.1,474.2 L597.0,474.2 L597.9,473.6 L598.8,472.8 L599.7,473.1 L600.6,473.5 L601.5,473.0 L602.4,472.9 L603.3,473.0 L604.2,473.8 L605.1,472.8 L606.0,472.5 L606.9,472.8 L607.8,473.8 L608.7,473.8 L609.6,473.2 L610.5,473.2 L611.4,472.7 L612.3,473.3 L613.2,474.4 L614.1,473.9 L615.0,472.9 L615.9,472.2 L616.8,472.3 L617.7,471.9 L618.6,471.7 L619.5,472.9 L620.4,473.2 L621.3,473.2 L622.2,473.0 L623.1,472.3 L624.0,473.0 L624.9,472.5 L625.8,472.8 L626.7,473.1 L627.6,473.6 L628.5,473.9 L629.4,473.1 L630.3,472.3 L631.2,472.1 L632.0,472.5" stroke="#c9161d" stroke-width="2.9" stroke-dasharray="5.4 2.6"/>
<path d="M218.0,503.9 L225.0,503.9 L225.7,503.9 L226.4,503.8 L227.1,503.8 L227.7,503.8 L228.3,503.7 L228.9,503.2 L229.4,502.5 L229.9,501.7 L230.2,501.0 L230.5,500.3 L230.8,499.6 L231.1,498.8 L231.3,498.0 L231.5,497.2 L231.7,496.4 L231.9,495.6 L232.0,494.9 L232.2,494.1 L232.3,493.3 L232.5,492.5 L232.6,491.7 L232.8,490.9 L232.9,490.2 L233.0,489.4 L233.2,488.6 L233.3,487.8 L233.4,487.0 L233.5,486.2 L233.6,485.4 L233.7,484.6 L233.8,483.8 L233.9,483.0 L234.0,482.2 L234.1,481.4 L234.2,480.6 L234.3,479.8 L234.4,479.0 L234.5,478.2 L234.6,477.4 L234.6,476.6 L234.7,475.8 L234.8,475.1 L234.9,474.3 L235.0,473.5 L235.0,472.7 L235.1,471.9 L235.2,471.1 L235.3,470.3 L235.3,469.5 L235.4,468.7 L235.5,467.9 L235.6,467.1 L235.6,466.3 L235.7,465.5 L235.7,464.7 L235.8,463.9 L235.9,463.1 L235.9,462.3 L236.0,461.5 L236.1,460.7 L236.1,459.9 L236.2,459.1 L236.2,458.3 L236.3,457.5 L236.4,456.7 L236.4,455.9 L236.5,455.1 L236.6,454.3 L236.6,453.5 L236.7,452.7 L236.7,451.9 L236.8,451.1 L236.8,450.3 L236.9,449.5 L237.0,448.7 L237.0,447.9 L237.1,447.1 L237.1,446.3 L237.2,445.5 L237.3,444.7 L237.3,443.9 L237.4,443.2 L237.4,442.4 L237.5,441.6 L237.5,440.8 L237.6,440.0 L237.6,439.2 L237.7,438.4 L237.7,437.6 L237.8,436.8 L237.8,436.0 L237.9,435.2 L237.9,434.4 L238.0,433.6 L238.0,432.8 L238.1,432.0 L238.1,431.2 L238.2,430.4 L238.2,429.6 L238.3,428.8 L238.3,428.0 L238.4,427.2 L238.4,426.4 L238.5,425.6 L238.5,424.8 L238.6,424.0 L238.6,423.2 L238.6,422.4 L238.7,421.6 L238.7,420.8 L238.8,420.0 L238.8,419.2 L238.8,418.4 L238.9,417.6 L238.9,416.8 L239.0,416.0 L239.0,415.2 L239.0,414.4 L239.1,413.6 L239.1,412.8 L239.2,412.0 L239.2,411.2 L239.2,410.4 L239.3,409.6 L239.3,408.8 L239.3,408.0 L239.4,407.2 L239.4,406.4 L239.4,405.6 L239.5,404.8 L239.5,404.0 L239.5,403.2 L239.6,402.4 L239.6,401.6 L239.6,400.8 L239.7,400.0 L239.7,399.2 L239.7,398.4 L239.8,397.6 L239.8,396.8 L239.8,396.0 L239.9,395.2 L239.9,394.4 L239.9,393.6 L240.0,392.8 L240.0,392.0 L240.0,391.2 L240.1,390.4 L240.1,389.6 L240.1,388.8 L240.2,388.0 L240.2,387.2 L240.2,386.4 L240.2,385.6 L240.3,384.8 L240.3,384.0 L240.3,383.2 L240.4,382.4 L240.4,381.6 L240.4,380.8 L240.4,380.0 L240.5,379.2 L240.5,378.4 L240.5,377.6 L240.6,376.8 L240.6,376.0 L240.6,375.2 L240.6,374.4 L240.7,373.6 L240.7,372.8 L240.7,372.0 L240.7,371.2 L240.8,370.4 L240.8,369.6 L240.8,368.8 L240.9,368.0 L240.9,367.2 L240.9,366.4 L240.9,365.6 L241.0,364.8 L241.0,364.0 L241.0,363.2 L241.0,362.4 L241.1,361.6 L241.1,360.8 L241.1,360.0 L241.1,359.2 L241.2,358.4 L241.2,357.6 L241.2,356.8 L241.2,356.0 L241.3,355.2 L241.3,354.4 L241.3,353.6 L241.3,352.8 L241.4,352.0 L241.4,351.2 L241.4,350.4 L241.4,349.6 L241.5,348.8 L241.5,348.0 L241.5,347.2 L241.5,346.4 L241.6,345.6 L241.6,344.8 L241.6,344.0 L241.6,343.2 L241.7,342.4 L241.7,341.6 L241.7,340.8 L241.7,340.0 L241.8,339.2 L241.8,338.4 L241.8,337.6 L241.8,336.8 L241.8,336.0 L241.9,335.2 L241.9,334.4 L241.9,333.6 L241.9,332.8 L241.9,332.0 L242.0,331.2 L242.0,330.4 L242.0,329.6 L242.0,328.8 L242.1,328.0 L242.1,327.2 L242.1,326.4 L242.1,325.6 L242.1,324.8 L242.2,324.0 L242.2,323.2 L242.2,322.4 L242.2,321.6 L242.2,320.8 L242.3,320.0 L242.3,319.2 L242.3,318.4 L242.3,317.6 L242.4,316.8 L242.4,316.0 L242.4,315.2 L242.4,314.4 L242.5,313.6 L242.5,312.8 L242.5,312.0 L242.5,311.3 L242.6,310.5 L242.6,309.7 L242.6,308.9 L242.7,308.1 L242.7,307.3 L242.7,306.5 L242.7,305.7 L242.8,304.9 L242.8,304.1 L242.8,303.3 L242.9,302.5 L242.9,301.7 L243.0,300.9 L243.0,300.1 L243.0,299.3 L243.1,298.5 L243.1,297.7 L243.2,296.9 L243.2,296.1 L243.3,295.3 L243.3,294.5 L243.4,293.7 L243.4,292.9 L243.5,292.1 L243.6,291.3 L243.6,290.5 L243.7,289.7 L243.8,288.9 L243.8,288.1 L243.9,287.3 L244.0,286.5 L244.0,285.7 L244.1,284.9 L244.2,284.1 L244.3,283.3 L244.3,282.5 L244.4,281.7 L244.5,280.9 L244.6,280.1 L244.7,279.3 L244.8,278.5 L244.8,277.7 L244.9,276.9 L245.0,276.1 L245.1,275.4 L245.2,274.6 L245.3,273.8 L245.4,273.0 L245.5,272.2 L245.6,271.4 L245.7,270.6 L245.8,269.8 L245.8,269.0 L245.9,268.2 L246.0,267.4 L246.1,266.6 L246.2,265.8 L246.3,265.0 L246.4,264.2 L246.6,263.3 L246.7,262.5 L246.8,261.7 L246.9,261.0 L247.0,260.2 L247.2,259.4 L247.3,258.6 L247.5,257.8 L247.7,257.0 L247.8,256.3 L248.0,255.5 L248.2,254.8 L248.4,254.0 L248.7,253.3 L249.0,252.6 L249.4,251.9 L249.8,251.2 L250.2,250.5 L250.6,249.8 L251.0,249.0 L251.3,248.2 L251.6,247.3 L252.0,246.3 L252.3,245.4 L252.6,244.5 L252.9,243.7 L253.2,243.2 L253.4,243.0 L253.6,243.1 L253.7,243.4 L253.9,244.0 L254.0,244.7 L254.2,245.6 L254.3,246.5 L254.4,247.5 L254.5,248.6 L254.7,249.6 L254.8,250.6 L254.9,251.5 L255.1,252.3 L255.2,253.1 L255.4,253.9 L255.5,254.7 L255.7,255.5 L255.9,256.3 L256.1,257.0 L256.2,257.8 L256.4,258.6 L256.5,259.4 L256.7,260.2 L256.8,261.0 L257.0,261.8 L257.1,262.5 L257.2,263.3 L257.3,264.1 L257.4,264.9 L257.5,265.7 L257.6,266.5 L257.7,267.3 L257.8,268.1 L257.9,268.9 L258.0,269.7 L258.1,270.5 L258.1,271.3 L258.2,272.1 L258.3,272.9 L258.5,273.7 L258.6,274.5 L258.7,275.4 L258.8,276.4 L258.9,277.4 L259.0,278.4 L259.1,279.5 L259.2,280.5 L259.3,281.4 L259.4,282.3 L259.5,283.1 L259.7,283.7 L259.9,284.2 L260.0,284.4 L260.3,284.5 L260.7,283.9 L261.4,283.0 L261.9,282.1 L262.3,281.8 L262.3,281.5 L262.3,281.4 L262.3,282.2 L262.3,282.0 L262.4,284.1 L262.4,285.6 L262.4,287.2 L262.4,286.4 L262.4,287.8 L262.4,289.7 L262.4,291.0 L262.4,290.9 L262.4,291.0 L262.4,290.5 L262.5,292.1 L262.5,294.5 L262.6,295.8 L262.6,296.3 L262.7,298.5 L262.8,299.2 L262.9,297.8 L263.0,296.4 L263.1,297.3 L263.2,299.6 L263.3,302.0 L263.4,302.0 L263.5,301.1 L263.6,303.3 L263.7,305.5 L263.8,305.1 L263.9,305.8 L264.0,308.2 L264.2,308.0 L264.3,308.1 L264.4,309.3 L264.5,309.9 L264.6,310.7 L264.7,312.7 L264.8,313.8 L264.9,314.1 L265.0,314.4 L265.1,315.6 L265.2,315.9 L265.3,316.9 L265.3,318.3 L265.4,319.3 L265.5,320.5 L265.6,319.9 L265.7,318.7 L265.8,320.0 L265.9,322.6 L266.0,322.9 L266.0,323.4 L266.1,323.9 L266.2,325.5 L266.3,326.2 L266.4,327.6 L266.5,327.7 L266.6,329.2 L266.6,329.7 L266.7,329.7 L266.8,331.1 L266.9,330.8 L267.0,331.5 L267.1,333.2 L267.2,333.3 L267.2,333.8 L267.3,334.7 L267.4,335.6 L267.5,337.7 L267.6,338.5 L267.7,338.6 L267.7,339.4 L267.8,341.0 L267.9,342.7 L268.0,342.8 L268.1,342.6 L268.1,343.8 L268.2,344.2 L268.3,345.3 L268.3,347.1 L268.4,346.6 L268.4,346.4 L268.5,346.2 L268.5,347.5 L268.6,349.7 L268.6,350.4 L268.7,351.5 L268.7,351.4 L268.8,352.4 L268.8,354.7 L268.9,356.3 L269.0,356.8 L269.0,358.0 L269.1,359.2 L269.2,359.0 L269.3,358.3 L269.4,359.4 L269.5,360.7 L269.6,361.0 L269.8,361.6 L269.9,361.1 L270.1,362.3 L270.5,363.5 L271.1,362.6 L271.5,363.7 L271.7,365.2 L271.8,365.3 L272.0,366.8 L272.1,367.5 L272.1,368.5 L272.2,369.5 L272.3,370.5 L272.4,371.0 L272.4,372.0 L272.5,372.7 L272.5,374.6 L272.6,376.2 L272.6,376.1 L272.7,376.2 L272.8,376.4 L272.9,378.0 L273.0,378.1 L273.1,378.8 L273.2,380.6 L273.3,381.7 L273.5,383.2 L273.6,384.0 L273.8,383.4 L273.9,384.7 L274.1,386.7 L274.3,387.2 L274.5,387.8 L274.6,388.4 L274.8,388.2 L275.0,389.6 L275.2,391.4 L275.4,391.9 L275.6,391.0 L275.8,391.7 L276.0,393.0 L276.1,393.3 L276.3,394.1 L276.5,395.5 L276.8,395.3 L277.0,395.2 L277.2,397.1 L277.4,397.8 L277.6,397.8 L277.9,398.6 L278.1,400.3 L278.3,399.3 L278.5,400.0 L278.7,402.5 L278.9,404.9 L279.1,405.5 L279.3,404.5 L279.4,405.1 L279.6,405.7 L279.7,407.5 L279.9,407.3 L280.0,408.9 L280.2,410.6 L280.3,411.2 L280.5,412.4 L280.6,412.1 L280.7,413.4 L280.9,414.6 L281.0,415.1 L281.1,416.7 L281.3,416.6 L281.4,416.9 L281.6,420.7 L281.7,420.2 L281.9,419.3 L282.1,419.1 L282.2,420.5 L282.4,421.5 L282.6,423.0 L282.8,424.2 L283.0,425.6 L283.2,425.5 L283.5,426.1 L283.8,426.7 L284.1,426.9 L284.4,427.8 L284.7,429.5 L285.0,430.0 L285.4,429.3 L285.7,429.6 L286.0,431.4 L286.3,433.1 L286.6,433.7 L286.9,434.8 L287.1,434.3 L287.3,434.4 L287.5,433.8 L287.7,435.5 L287.9,437.3 L288.1,439.1 L288.2,440.7 L288.4,440.8 L288.5,442.1 L288.7,442.7 L288.9,443.2 L289.1,443.4 L289.3,444.6 L289.5,444.3 L289.8,445.2 L290.0,445.3 L290.3,445.7 L290.7,446.0 L291.1,447.4 L291.6,448.9 L292.0,449.1 L292.5,449.3 L293.1,451.6 L293.6,452.2 L294.1,453.0 L294.7,453.3 L295.2,452.3 L295.8,451.7 L296.3,453.4 L296.8,455.4 L297.4,455.2 L297.9,456.3 L298.5,456.5 L299.1,456.9 L299.6,456.8 L300.2,458.8 L300.8,459.4 L301.4,460.2 L302.0,460.6 L302.6,461.2 L303.2,461.4 L303.8,461.7 L304.4,460.7 L305.1,461.5 L305.7,463.3 L306.3,463.6 L307.0,463.8 L307.6,464.4 L308.3,465.1 L309.0,465.1 L309.6,465.8 L310.3,465.5 L311.0,466.3 L311.7,468.0 L312.4,468.2 L313.1,467.4 L313.8,468.3 L314.5,468.1 L315.2,468.7 L316.0,467.6 L316.7,468.0 L317.4,469.2 L318.2,470.4 L318.9,471.9 L319.6,472.4 L320.4,473.0 L321.1,472.7 L321.9,471.7 L322.6,472.0 L323.4,473.0 L324.1,472.8 L324.9,472.3 L325.7,471.8 L326.5,472.0 L327.2,471.0 L328.0,472.2 L328.8,473.1 L329.6,474.1 L330.3,473.8 L331.1,474.1 L332.0,475.0 L332.8,474.0 L333.6,474.0 L334.5,473.2 L335.3,474.4 L336.1,475.4 L336.9,475.4 L337.7,474.5 L338.5,475.1 L339.2,475.3 L339.9,475.1 L340.6,475.1 L341.2,475.1 L341.8,474.3 L342.4,472.5 L343.0,472.2 L343.6,474.3 L344.2,473.3 L344.7,470.4 L345.3,470.5 L345.9,470.6 L346.5,470.0 L347.1,468.6 L347.7,467.2 L348.3,466.9 L348.8,466.4 L349.3,466.1 L349.8,465.3 L350.3,465.0 L350.6,465.4 L351.0,464.6 L351.3,462.2 L351.6,461.3 L351.9,461.1 L352.2,461.6 L352.5,460.8 L352.8,460.4 L353.1,458.6 L353.3,457.4 L353.6,456.4 L353.8,456.9 L354.0,455.2 L354.2,453.3 L354.5,452.5 L354.7,451.2 L354.9,451.8 L355.1,451.8 L355.3,451.5 L355.5,451.2 L355.7,449.6 L355.9,449.1 L356.1,448.0 L356.3,446.2 L356.5,444.5 L356.7,445.3 L356.9,444.3 L357.1,443.2 L357.3,442.0 L357.5,442.1 L357.7,441.5 L357.8,440.6 L358.0,440.0 L358.2,440.1 L358.3,439.5 L358.5,439.2 L358.7,439.4 L358.8,436.2 L359.0,434.3 L359.1,433.5 L359.3,433.4 L359.5,431.6 L359.6,429.2 L359.8,429.5 L359.9,430.4 L360.1,430.0 L360.3,427.6 L360.5,427.1 L360.6,426.8 L360.8,426.0 L361.0,425.9 L361.2,425.1 L361.4,424.2 L361.6,423.3 L361.8,423.7 L362.0,422.6 L362.3,422.0 L362.5,420.3 L362.8,419.4 L363.0,417.6 L363.3,416.1 L363.5,415.4 L363.8,415.0 L364.1,414.6 L364.4,414.3 L364.7,411.8 L365.0,411.2 L365.4,412.5 L365.7,411.2 L366.1,409.1 L366.4,410.0 L366.8,409.7 L367.3,408.4 L367.8,409.7 L368.3,411.3 L368.9,412.8 L369.4,413.8 L369.9,414.2 L370.4,415.2 L370.7,415.0 L371.1,414.8 L371.4,415.6 L371.7,416.8 L372.0,416.6 L372.2,418.4 L372.5,418.6 L372.8,419.7 L373.0,421.6 L373.3,422.3 L373.5,421.0 L373.7,422.1 L373.9,423.7 L374.1,424.6 L374.4,425.6 L374.6,425.1 L374.8,427.1 L375.0,428.4 L375.2,429.2 L375.4,430.1 L375.7,429.9 L375.9,431.5 L376.1,431.8 L376.3,432.9 L376.5,433.5 L376.7,435.0 L376.9,435.4 L377.0,434.7 L377.2,436.0 L377.4,437.1 L377.6,437.6 L377.8,438.7 L378.0,441.0 L378.1,441.5 L378.3,442.3 L378.5,441.6 L378.7,441.8 L378.9,443.2 L379.1,444.5 L379.3,446.9 L379.5,447.0 L379.7,447.6 L379.9,447.4 L380.1,447.8 L380.3,448.9 L380.5,450.2 L380.7,451.3 L380.9,451.2 L381.1,451.2 L381.3,451.9 L381.5,453.6 L381.7,455.1 L381.9,455.9 L382.2,456.1 L382.4,456.6 L382.6,457.9 L382.8,459.1 L383.1,459.5 L383.4,460.2 L383.6,461.0 L383.9,462.1 L384.2,462.2 L384.6,463.0 L384.9,464.1 L385.3,465.2 L385.7,466.3 L386.2,466.4 L386.8,466.2 L387.4,465.7 L388.1,467.8 L388.8,469.4 L389.5,467.8 L390.3,467.3 L391.0,468.5 L391.7,469.8 L392.4,469.5 L393.1,468.8 L393.9,469.3 L394.6,470.3 L395.4,470.9 L396.2,471.9 L397.0,471.1 L397.8,470.4 L398.7,470.2 L399.5,469.4 L400.3,469.0 L401.1,469.9 L402.0,470.0 L402.8,468.8 L403.6,469.1 L404.5,469.6 L405.3,470.0 L406.1,470.0 L406.9,470.3 L407.7,470.5 L408.5,470.4 L409.3,469.3 L410.1,471.3 L410.9,471.6 L411.8,470.6 L412.6,470.7 L413.4,470.5 L414.2,469.6 L415.1,470.1 L415.9,470.8 L416.7,470.7 L417.5,471.0 L418.3,470.4 L419.1,469.9 L419.9,469.3 L420.6,469.4 L421.4,470.0 L422.2,471.3 L422.9,470.4 L423.6,469.4 L424.4,469.9 L425.1,468.8 L425.7,466.9 L426.4,468.0 L427.1,467.4 L427.7,467.6 L428.4,466.3 L429.0,465.4 L429.7,465.7 L430.4,464.4 L431.0,464.3 L431.7,464.8 L432.4,465.0 L433.1,464.7 L433.9,463.7 L434.6,463.3 L435.4,464.4 L436.1,463.5 L436.9,464.0 L437.7,463.0 L438.5,463.5 L439.3,463.1 L440.1,461.6 L440.9,462.1 L441.7,462.6 L442.5,462.3 L443.3,461.6 L444.1,461.5 L444.9,460.9 L445.7,460.6 L446.5,461.7 L447.3,461.6 L448.1,462.6 L448.9,462.1 L449.7,460.8 L450.5,461.0 L451.3,461.0 L452.1,460.9 L452.9,461.6 L453.7,461.7 L454.5,463.0 L455.3,462.5 L456.1,461.1 L456.9,461.3 L457.7,461.0 L458.5,460.5 L459.3,462.2 L460.1,462.9 L460.9,462.5 L461.7,461.8 L462.5,462.3 L463.3,462.0 L464.1,462.8 L464.9,463.3 L465.7,461.8 L466.5,460.4 L467.3,461.1 L468.1,462.3 L468.9,462.4 L469.7,460.9 L470.5,461.1 L471.3,461.8 L472.1,462.1 L472.9,462.1 L473.7,460.8 L474.5,461.1 L475.3,462.2 L476.1,462.1 L476.9,462.2 L477.7,462.4 L478.5,461.9 L479.3,461.7 L480.1,460.8 L480.9,459.7 L481.7,459.8 L482.4,460.7 L483.2,460.6 L484.0,460.2 L484.8,460.4 L485.6,459.8 L486.4,460.1 L487.2,459.9 L488.0,458.7 L488.8,458.1 L489.5,460.3 L490.3,459.4 L491.1,457.1 L491.9,458.2 L492.7,459.1 L493.5,458.9 L494.3,458.8 L495.1,457.9 L495.9,458.2 L496.6,458.2 L497.4,457.9 L498.2,457.8 L499.0,458.2 L499.8,458.5 L500.6,457.4 L501.4,457.2 L502.2,457.6 L503.0,457.7 L503.8,458.1 L504.6,458.6 L505.4,458.8 L506.2,457.2 L507.0,455.7 L507.8,457.0 L508.6,457.8 L509.4,457.5 L510.2,456.8 L511.0,455.7 L511.8,457.3 L512.6,457.1 L513.4,456.1 L514.2,456.3 L515.0,456.8 L515.8,458.0 L516.6,458.6 L517.4,459.2 L518.2,458.2 L519.0,456.3 L519.8,456.4 L520.6,458.6 L521.4,459.1 L522.2,458.0 L523.0,457.6 L523.8,456.0 L524.6,455.3 L525.4,456.0 L526.2,456.9 L527.0,457.1 L527.8,457.2 L528.6,457.5 L529.4,458.6 L530.2,459.2 L530.9,458.9 L531.7,459.6 L532.5,458.1 L533.3,457.8 L534.1,458.5 L534.9,458.7 L535.7,459.4 L536.5,459.0 L537.3,459.9 L538.1,460.3 L538.9,461.3 L539.7,459.7 L540.5,459.3 L541.2,459.1 L542.0,458.2 L542.8,459.9 L543.6,460.6 L544.4,459.9 L545.2,458.6 L546.0,458.8 L546.8,460.7 L547.6,461.9 L548.4,461.8 L549.2,459.9 L550.0,459.4 L550.8,459.6 L551.6,458.8 L552.4,459.9 L553.2,461.7 L554.0,462.4 L554.8,461.9 L555.6,462.4 L556.4,461.7 L557.2,461.2 L558.0,460.9 L558.8,461.1 L559.6,460.9 L560.4,460.7 L561.2,460.6 L562.0,461.2 L562.8,460.8 L563.6,459.9 L564.4,460.4 L565.2,459.9 L566.0,459.4 L566.8,461.5 L567.6,463.2 L568.4,464.0 L569.2,462.9 L570.0,461.2 L570.8,462.2 L571.6,461.9 L572.4,460.1 L573.2,461.5 L574.0,462.0 L574.8,461.6 L575.6,461.5 L576.4,461.8 L577.2,462.4 L578.0,461.3 L578.8,460.9 L579.6,461.2 L580.4,460.9 L581.2,460.2 L582.0,461.9 L582.8,461.9 L583.6,461.8 L584.4,461.5 L585.2,461.0 L586.0,460.9 L586.8,461.2 L587.6,461.6 L588.4,462.2 L589.2,461.7 L590.0,461.6 L590.8,462.2 L591.6,460.1 L592.4,459.5 L593.2,460.7 L593.9,460.1 L594.7,459.0 L595.5,459.6 L596.3,460.0 L597.1,460.8 L597.9,460.2 L598.7,460.8 L599.5,460.5 L600.3,459.7 L601.1,459.7 L601.9,459.2 L602.7,457.7 L603.5,458.8 L604.3,459.4 L605.1,460.2 L605.8,459.1 L606.6,458.8 L607.4,457.1 L608.2,458.6 L609.0,458.8 L609.8,458.2 L610.6,458.0 L611.4,458.0 L612.2,458.2 L613.0,457.4 L613.8,456.2 L614.6,457.6 L615.4,459.3 L616.2,458.2 L616.9,457.5 L617.7,457.0 L618.5,457.2 L619.3,457.1 L620.1,456.9 L620.9,457.1 L621.7,456.1 L622.5,456.3 L623.3,456.7 L624.1,455.8 L624.9,455.2 L625.6,455.9 L626.4,455.1 L627.2,454.9 L628.0,454.8 L628.8,455.1 L629.6,454.9 L630.4,454.9 L631.2,456.0 L632.0,456.5 L632.0,455.2" stroke="#c9161d" stroke-width="2.8"/>
<path d="M44.8,503.9 L204.4,503.9 L220.8,503.8 L221.8,503.8 L222.8,503.5 L223.7,503.0 L224.5,502.4 L225.1,501.7 L225.6,500.9 L226.7,497.9 L227.7,494.1 L229.2,486.2 L230.7,476.3 L234.0,449.5 L236.5,431.7 L237.6,424.7 L239.5,413.7 L240.4,409.8 L240.9,407.9 L241.6,406.2 L242.9,404.3 L243.6,403.5 L244.4,403.0 L245.1,403.1 L245.8,403.8 L246.6,404.8 L247.5,406.5 L248.1,408.4 L249.7,415.3 L252.3,429.1 L255.3,441.8 L256.6,446.6 L258.1,451.3 L259.9,456.1 L261.5,459.8 L263.0,462.4 L264.6,464.8 L266.7,467.1 L268.2,468.4 L269.9,469.5 L272.6,470.6 L275.5,471.5 L278.5,472.1 L284.4,472.7 L291.4,473.2 L306.5,473.7 L315.5,474.0 L321.5,474.0 L328.5,473.9 L344.4,473.2 L349.4,472.8 L355.4,472.1 L371.2,469.7 L381.1,467.9 L390.0,466.6 L393.9,466.1 L397.9,465.8 L405.9,466.0 L419.9,466.9 L425.9,467.4 L438.8,468.9 L458.7,470.9 L464.7,471.4 L470.7,471.5 L475.7,471.4 L481.7,471.0 L498.6,469.4 L505.5,468.5 L517.4,466.5 L523.3,465.6 L537.2,464.0 L541.2,463.7 L545.2,463.5 L563.2,463.3 L583.2,463.2 L590.2,463.4 L607.2,464.0 L632.0,464.5" stroke="#0a0a0a" stroke-width="2.8" stroke-dasharray="5.6 2.6"/>
<path d="M44.8,503.9 L214.1,503.8 L220.8,503.8 L221.8,503.7 L222.8,503.3 L223.7,502.8 L224.3,502.2 L224.8,501.4 L225.6,499.4 L226.4,496.5 L226.9,494.5 L228.2,487.6 L229.2,481.7 L230.4,472.8 L233.3,449.0 L235.1,436.1 L236.9,424.2 L239.5,409.3 L240.5,405.5 L241.1,403.7 L241.6,402.6 L242.2,401.6 L242.9,400.7 L243.6,400.1 L244.2,400.1 L244.9,400.7 L246.1,402.6 L246.9,404.4 L247.5,406.4 L248.9,411.2 L251.4,421.9 L253.5,429.6 L255.5,436.4 L257.3,442.1 L259.4,447.7 L261.0,451.5 L262.8,455.0 L264.3,457.5 L266.3,459.8 L267.8,461.2 L269.3,462.5 L272.6,464.7 L276.2,466.5 L280.0,468.0 L284.7,469.4 L289.6,470.6 L294.5,471.6 L299.5,472.3 L306.4,473.0 L321.4,474.1 L335.4,475.3 L343.4,475.7 L355.4,475.5 L369.3,475.0 L372.3,474.6 L379.2,473.3 L382.2,472.8 L384.2,472.7 L394.2,472.5 L403.2,472.6 L418.2,473.2 L444.1,473.7 L464.1,474.4 L474.1,474.5 L488.1,474.1 L504.1,473.4 L515.1,472.9 L528.1,472.1 L543.0,470.7 L549.0,470.3 L599.9,467.6 L614.9,467.1 L632.0,466.8" stroke="#0a0a0a" stroke-width="2.7"/>
<path d="M218.0,788.0 L224.8,788.0 L225.7,788.0 L226.5,788.0 L227.3,787.9 L228.1,787.9 L228.8,787.9 L229.6,787.7 L230.3,787.0 L230.9,786.2 L231.3,785.5 L231.8,784.7 L232.2,783.9 L232.5,783.1 L232.9,782.2 L233.2,781.3 L233.4,780.4 L233.6,779.6 L233.8,778.7 L233.9,777.9 L234.1,777.0 L234.2,776.1 L234.4,775.2 L234.5,774.3 L234.6,773.4 L234.7,772.5 L234.8,771.6 L234.9,770.7 L235.0,769.8 L235.1,768.9 L235.2,768.0 L235.3,767.1 L235.4,766.2 L235.5,765.3 L235.5,764.4 L235.6,763.5 L235.7,762.6 L235.8,761.7 L235.9,760.8 L236.0,759.9 L236.1,759.0 L236.2,758.1 L236.3,757.2 L236.4,756.3 L236.5,755.4 L236.6,754.5 L236.7,753.7 L236.8,752.8 L236.9,751.9 L237.0,751.0 L237.1,750.1 L237.1,749.2 L237.2,748.3 L237.3,747.4 L237.4,746.5 L237.5,745.6 L237.6,744.7 L237.7,743.8 L237.8,742.9 L237.8,742.0 L237.9,741.1 L238.0,740.2 L238.1,739.3 L238.2,738.4 L238.3,737.5 L238.4,736.6 L238.4,735.7 L238.5,734.8 L238.6,733.9 L238.7,733.0 L238.8,732.2 L238.8,731.3 L238.9,730.4 L239.0,729.5 L239.1,728.6 L239.1,727.7 L239.2,726.8 L239.3,725.9 L239.4,725.0 L239.4,724.1 L239.5,723.2 L239.6,722.3 L239.7,721.4 L239.7,720.5 L239.8,719.6 L239.9,718.7 L239.9,717.8 L240.0,716.9 L240.1,716.0 L240.2,715.1 L240.2,714.2 L240.3,713.3 L240.4,712.4 L240.5,711.5 L240.5,710.6 L240.6,709.7 L240.7,708.8 L240.8,707.9 L240.8,707.0 L240.9,706.1 L241.0,705.2 L241.1,704.3 L241.1,703.4 L241.2,702.6 L241.3,701.7 L241.4,700.8 L241.4,699.9 L241.5,699.0 L241.6,698.1 L241.6,697.2 L241.7,696.3 L241.8,695.4 L241.9,694.5 L241.9,693.6 L242.0,692.7 L242.1,691.8 L242.2,690.9 L242.2,690.0 L242.3,689.1 L242.4,688.2 L242.5,687.3 L242.6,686.4 L242.7,685.5 L242.7,684.6 L242.8,683.7 L242.9,682.8 L243.0,681.9 L243.1,681.0 L243.2,680.1 L243.3,679.2 L243.4,678.4 L243.5,677.5 L243.6,676.6 L243.8,675.7 L243.9,674.8 L244.0,673.9 L244.1,673.0 L244.2,672.1 L244.4,671.2 L244.5,670.3 L244.6,669.4 L244.7,668.5 L244.8,667.6 L244.9,666.7 L245.0,665.9 L245.1,665.0 L245.2,664.1 L245.3,663.2 L245.4,662.3 L245.5,661.4 L245.6,660.5 L245.7,659.6 L245.7,658.7 L245.8,657.8 L245.9,656.9 L246.0,656.0 L246.1,655.1 L246.2,654.2 L246.2,653.3 L246.3,652.4 L246.4,651.5 L246.5,650.6 L246.5,649.7 L246.6,648.8 L246.7,647.9 L246.8,647.0 L246.9,646.1 L246.9,645.2 L247.0,644.3 L247.1,643.5 L247.2,642.6 L247.3,641.7 L247.3,640.8 L247.4,639.9 L247.5,639.0 L247.6,638.1 L247.7,637.2 L247.8,636.3 L247.9,635.4 L247.9,634.5 L248.0,633.6 L248.1,632.7 L248.2,631.8 L248.3,630.9 L248.4,630.0 L248.5,629.1 L248.5,628.2 L248.6,627.3 L248.7,626.4 L248.8,625.5 L248.9,624.6 L249.0,623.7 L249.1,622.8 L249.2,621.9 L249.3,621.0 L249.4,620.1 L249.5,619.2 L249.6,618.4 L249.8,617.5 L249.9,616.6 L250.1,615.7 L250.2,614.8 L250.4,613.9 L250.6,613.1 L250.9,612.2 L251.2,611.3 L251.4,610.5 L251.8,609.6 L252.1,608.8 L252.5,607.8 L253.0,606.8 L253.5,606.1 L253.9,606.0 L254.3,606.4 L254.7,607.2 L255.1,608.2 L255.4,609.3 L255.8,610.3 L256.1,611.2 L256.4,612.1 L256.8,612.9 L257.1,613.8 L257.4,614.6 L257.7,615.5 L257.9,616.3 L258.2,617.2 L258.4,618.0 L258.7,618.9 L258.9,619.8 L259.1,620.6 L259.3,621.5 L259.5,622.4 L259.7,623.3 L259.9,624.2 L260.1,625.1 L260.2,625.9 L260.4,626.8 L260.6,627.7 L260.7,628.6 L260.9,629.5 L261.1,630.4 L261.2,631.2 L261.4,632.1 L261.5,633.0 L261.7,633.9 L261.8,634.8 L261.9,635.7 L262.1,636.4 L262.2,637.0 L262.3,638.1 L262.4,639.6 L262.6,641.1 L262.7,641.3 L262.8,641.5 L262.9,642.3 L263.0,643.8 L263.2,644.4 L263.3,645.4 L263.4,646.7 L263.6,647.4 L263.7,648.0 L263.8,649.1 L264.0,650.4 L264.1,651.0 L264.3,651.9 L264.4,652.8 L264.6,653.5 L264.8,654.4 L264.9,655.4 L265.1,656.7 L265.3,657.2 L265.4,657.1 L265.6,658.6 L265.8,660.2 L265.9,660.6 L266.1,661.4 L266.3,662.6 L266.5,662.9 L266.6,664.1 L266.8,665.4 L267.0,666.2 L267.2,666.2 L267.3,667.1 L267.5,668.9 L267.7,669.2 L267.9,670.5 L268.0,672.3 L268.2,671.9 L268.4,672.2 L268.5,675.0 L268.7,675.7 L268.9,676.4 L269.1,677.9 L269.2,678.0 L269.4,678.9 L269.6,679.3 L269.8,680.0 L270.0,681.3 L270.2,682.5 L270.4,683.6 L270.6,684.2 L270.8,684.3 L271.1,685.4 L271.3,687.1 L271.5,687.6 L271.7,688.2 L271.9,689.6 L272.1,690.7 L272.3,691.3 L272.4,691.3 L272.6,692.1 L272.8,693.7 L272.9,694.6 L273.1,694.5 L273.3,695.4 L273.4,696.7 L273.6,697.9 L273.8,698.6 L273.9,700.5 L274.1,700.8 L274.3,701.8 L274.4,703.3 L274.6,703.7 L274.8,704.2 L275.0,704.8 L275.2,705.6 L275.4,706.0 L275.6,707.1 L275.8,708.0 L276.0,708.7 L276.2,710.3 L276.5,710.9 L276.7,710.9 L276.9,712.4 L277.2,713.2 L277.4,714.3 L277.7,714.8 L278.0,715.7 L278.2,717.3 L278.5,718.5 L278.8,718.1 L279.1,719.0 L279.4,720.2 L279.7,721.6 L280.0,722.1 L280.3,723.2 L280.6,724.5 L281.0,725.0 L281.3,725.2 L281.6,725.8 L282.0,726.8 L282.3,727.7 L282.7,728.2 L283.1,729.3 L283.5,730.4 L283.9,730.8 L284.3,731.6 L284.7,732.9 L285.1,733.7 L285.6,733.6 L286.0,734.6 L286.5,736.3 L287.0,736.6 L287.5,736.9 L288.0,738.3 L288.5,739.6 L289.0,739.4 L289.5,739.7 L290.0,741.0 L290.6,742.4 L291.1,742.4 L291.7,743.4 L292.3,744.4 L292.9,744.8 L293.6,745.1 L294.2,746.0 L294.9,746.7 L295.6,747.5 L296.2,747.9 L296.9,748.0 L297.6,748.0 L298.3,749.3 L299.0,749.5 L299.8,749.3 L300.5,750.5 L301.3,751.5 L302.0,751.4 L302.8,751.0 L303.6,751.9 L304.4,752.6 L305.2,752.9 L306.0,752.9 L306.8,754.2 L307.6,755.1 L308.4,755.4 L309.3,755.4 L310.1,755.8 L311.0,756.6 L311.8,756.6 L312.7,756.5 L313.6,757.1 L314.4,757.7 L315.3,758.2 L316.1,758.0 L317.0,757.6 L317.9,758.0 L318.7,758.7 L319.6,759.2 L320.5,759.4 L321.4,758.5 L322.2,758.7 L323.1,759.2 L324.0,760.3 L324.9,760.6 L325.8,760.4 L326.7,760.4 L327.6,759.9 L328.5,760.2 L329.4,760.1 L330.3,760.0 L331.2,760.1 L332.2,760.5 L333.1,760.3 L334.0,759.3 L334.9,759.3 L335.8,759.8 L336.7,759.8 L337.6,758.8 L338.5,758.9 L339.3,759.5 L340.2,760.1 L341.0,759.1 L341.8,758.7 L342.6,758.5 L343.4,758.0 L344.2,757.5 L344.9,756.9 L345.6,756.3 L346.3,755.9 L347.0,755.4 L347.6,754.8 L348.2,753.9 L348.9,752.7 L349.5,752.4 L350.0,751.9 L350.6,751.5 L351.1,750.9 L351.5,750.2 L351.9,748.5 L352.3,747.7 L352.6,747.1 L352.9,746.0 L353.2,745.2 L353.5,744.3 L353.8,743.9 L354.0,743.9 L354.3,742.6 L354.5,741.7 L354.8,740.2 L355.0,739.3 L355.2,738.3 L355.4,737.9 L355.6,737.9 L355.9,737.2 L356.1,735.7 L356.3,734.4 L356.6,733.3 L356.8,732.7 L357.1,731.9 L357.3,730.0 L357.5,729.1 L357.8,728.4 L358.0,728.0 L358.2,726.7 L358.4,726.1 L358.6,724.6 L358.8,723.8 L359.1,724.1 L359.3,723.0 L359.5,721.0 L359.8,719.6 L360.1,719.2 L360.3,719.1 L360.6,718.1 L361.0,717.0 L361.3,716.9 L361.7,716.4 L362.1,714.8 L362.6,714.0 L363.2,713.3 L363.9,713.1 L364.6,712.1 L365.4,710.8 L366.1,710.1 L366.7,710.7 L367.3,710.8 L368.0,711.2 L368.6,711.8 L369.2,712.4 L369.8,712.5 L370.4,713.7 L370.9,715.6 L371.4,717.1 L371.7,717.4 L372.0,717.7 L372.3,718.1 L372.6,718.9 L372.9,719.9 L373.1,720.7 L373.3,721.9 L373.5,723.2 L373.7,724.7 L373.9,725.1 L374.1,726.0 L374.3,726.5 L374.4,728.1 L374.6,729.5 L374.8,729.1 L375.0,729.6 L375.1,731.3 L375.3,732.0 L375.5,732.7 L375.8,733.9 L376.0,734.9 L376.2,736.1 L376.5,736.5 L376.8,736.7 L377.1,737.0 L377.4,737.6 L377.7,739.0 L378.1,740.6 L378.4,740.8 L378.8,742.1 L379.2,743.6 L379.6,744.5 L380.0,745.6 L380.4,746.3 L380.8,747.0 L381.3,746.9 L381.7,747.6 L382.2,749.4 L382.7,749.8 L383.1,750.1 L383.6,750.8 L384.1,752.3 L384.7,752.8 L385.2,753.2 L385.8,753.4 L386.4,754.2 L387.0,754.8 L387.7,755.6 L388.3,756.4 L389.0,756.6 L389.7,757.2 L390.4,758.2 L391.1,758.4 L391.9,759.8 L392.6,760.2 L393.4,759.7 L394.2,760.7 L395.0,760.8 L395.8,761.5 L396.7,761.6 L397.5,762.0 L398.4,762.0 L399.3,762.7 L400.1,763.2 L401.0,764.0 L401.9,763.8 L402.8,763.2 L403.6,763.5 L404.5,763.5 L405.4,764.1 L406.2,764.9 L407.1,765.1 L408.0,764.3 L408.9,763.8 L409.8,764.5 L410.7,765.4 L411.6,764.5 L412.5,763.6 L413.4,763.5 L414.3,764.0 L415.3,765.0 L416.2,764.6 L417.1,764.4 L418.0,765.0 L418.9,765.4 L419.8,764.8 L420.7,764.5 L421.6,765.0 L422.5,765.1 L423.4,764.0 L424.3,764.3 L425.2,765.6 L426.0,765.3 L426.9,764.6 L427.8,763.6 L428.7,763.5 L429.6,763.9 L430.4,764.3 L431.3,763.5 L432.2,762.8 L433.1,763.8 L434.0,764.0 L434.8,763.1 L435.7,761.9 L436.6,761.7 L437.5,761.9 L438.4,762.2 L439.3,762.4 L440.1,761.1 L441.0,760.8 L441.9,761.0 L442.8,760.7 L443.7,760.3 L444.6,759.9 L445.5,760.3 L446.3,760.2 L447.2,760.4 L448.1,760.4 L449.0,759.8 L449.9,759.5 L450.7,759.4 L451.6,759.1 L452.5,758.8 L453.4,757.9 L454.2,758.0 L455.1,758.6 L456.0,758.5 L456.9,758.2 L457.8,757.3 L458.6,757.2 L459.5,757.4 L460.4,757.2 L461.3,757.2 L462.2,757.5 L463.1,756.7 L463.9,756.4 L464.8,756.7 L465.7,756.6 L466.6,756.5 L467.5,756.8 L468.4,756.3 L469.3,755.5 L470.2,755.3 L471.0,755.8 L471.9,755.4 L472.8,755.3 L473.7,755.4 L474.6,756.2 L475.5,755.5 L476.4,754.3 L477.3,754.6 L478.2,754.2 L479.1,754.5 L480.0,754.9 L480.9,754.3 L481.8,754.6 L482.7,754.8 L483.6,754.8 L484.5,754.3 L485.4,754.5 L486.3,754.5 L487.2,754.8 L488.1,754.6 L489.0,754.8 L489.9,755.1 L490.8,754.9 L491.7,754.3 L492.6,754.3 L493.5,754.1 L494.4,754.3 L495.3,754.5 L496.2,753.4 L497.1,753.0 L498.0,753.5 L498.9,753.5 L499.8,754.0 L500.7,754.0 L501.6,753.6 L502.4,753.0 L503.3,752.5 L504.2,752.2 L505.1,752.2 L506.0,752.3 L506.9,752.1 L507.8,752.7 L508.7,752.3 L509.6,751.0 L510.5,750.5 L511.3,751.5 L512.2,750.6 L513.1,749.5 L514.0,750.0 L514.9,751.1 L515.8,751.7 L516.7,751.7 L517.6,751.8 L518.5,751.9 L519.3,751.4 L520.2,750.0 L521.1,749.7 L522.0,749.6 L522.9,749.7 L523.8,749.6 L524.7,750.0 L525.6,750.3 L526.5,749.4 L527.4,749.3 L528.3,748.6 L529.2,748.4 L530.1,749.1 L531.0,748.9 L531.9,748.9 L532.8,749.0 L533.7,748.0 L534.6,748.4 L535.5,748.8 L536.4,748.0 L537.2,748.3 L538.1,748.8 L539.0,748.8 L539.9,748.8 L540.8,748.9 L541.6,748.9 L542.5,749.1 L543.4,748.9 L544.3,748.7 L545.1,749.2 L546.0,749.7 L546.9,750.5 L547.7,750.7 L548.6,750.9 L549.5,751.1 L550.3,751.3 L551.2,751.2 L552.1,751.5 L553.0,751.4 L553.8,751.4 L554.7,751.8 L555.6,753.1 L556.5,752.8 L557.4,752.0 L558.3,752.2 L559.2,752.7 L560.1,752.7 L561.0,753.2 L561.9,753.5 L562.7,753.2 L563.6,752.1 L564.5,753.2 L565.4,753.7 L566.3,753.9 L567.2,753.3 L568.1,753.0 L569.0,753.2 L569.9,753.9 L570.8,753.8 L571.7,753.2 L572.6,753.6 L573.5,754.0 L574.4,753.8 L575.3,754.2 L576.2,754.5 L577.1,754.3 L577.9,754.3 L578.8,755.5 L579.7,755.7 L580.6,755.7 L581.5,755.6 L582.4,755.9 L583.3,755.9 L584.1,756.2 L585.0,756.7 L585.9,757.0 L586.8,756.6 L587.7,756.8 L588.6,757.5 L589.5,757.0 L590.3,757.4 L591.2,757.7 L592.1,757.9 L593.0,757.5 L593.9,757.3 L594.8,757.5 L595.7,757.0 L596.6,757.1 L597.5,757.6 L598.4,757.6 L599.3,757.2 L600.2,758.1 L601.1,758.0 L602.0,758.4 L602.9,758.3 L603.8,757.7 L604.7,757.1 L605.6,756.9 L606.5,757.9 L607.4,758.3 L608.3,757.7 L609.2,757.2 L610.1,756.7 L611.0,756.6 L611.9,757.2 L612.8,757.7 L613.7,757.3 L614.6,757.5 L615.5,757.4 L616.4,756.9 L617.3,756.5 L618.2,756.5 L619.1,756.5 L620.0,757.3 L620.9,757.2 L621.8,756.4 L622.7,756.2 L623.6,756.2 L624.5,756.8 L625.4,757.0 L626.3,756.4 L627.2,756.5 L628.1,756.6 L629.0,756.1 L629.9,756.9 L630.8,757.8 L631.7,757.7 L632.0,756.9" stroke="#c9161d" stroke-width="2.9" stroke-dasharray="5.4 2.6"/>
<path d="M218.0,788.0 L224.8,788.0 L225.6,788.0 L226.3,787.9 L227.0,787.9 L227.7,787.9 L228.3,787.8 L229.0,787.4 L229.6,786.7 L230.0,786.0 L230.4,785.3 L230.7,784.6 L231.0,783.8 L231.2,783.1 L231.5,782.3 L231.7,781.5 L231.9,780.7 L232.0,779.9 L232.2,779.1 L232.3,778.3 L232.5,777.5 L232.6,776.8 L232.7,776.0 L232.8,775.2 L232.9,774.4 L233.0,773.6 L233.2,772.8 L233.2,772.0 L233.3,771.2 L233.4,770.4 L233.5,769.6 L233.6,768.8 L233.7,768.0 L233.8,767.2 L233.9,766.4 L233.9,765.6 L234.0,764.8 L234.1,764.0 L234.2,763.2 L234.3,762.4 L234.3,761.6 L234.4,760.8 L234.5,760.0 L234.6,759.2 L234.6,758.4 L234.7,757.7 L234.8,756.9 L234.8,756.1 L234.9,755.3 L235.0,754.5 L235.0,753.7 L235.1,752.9 L235.2,752.1 L235.2,751.3 L235.3,750.5 L235.3,749.7 L235.4,748.9 L235.5,748.1 L235.5,747.3 L235.6,746.5 L235.6,745.7 L235.7,744.9 L235.7,744.1 L235.8,743.3 L235.8,742.5 L235.9,741.7 L235.9,740.9 L236.0,740.1 L236.0,739.3 L236.1,738.5 L236.1,737.7 L236.2,736.9 L236.2,736.1 L236.3,735.3 L236.3,734.5 L236.4,733.7 L236.4,732.9 L236.5,732.1 L236.5,731.3 L236.6,730.5 L236.6,729.7 L236.7,728.9 L236.7,728.1 L236.7,727.3 L236.8,726.5 L236.8,725.7 L236.9,724.9 L236.9,724.1 L236.9,723.3 L237.0,722.5 L237.0,721.7 L237.1,720.9 L237.1,720.1 L237.1,719.3 L237.2,718.5 L237.2,717.7 L237.3,716.9 L237.3,716.1 L237.3,715.3 L237.4,714.5 L237.4,713.7 L237.5,712.9 L237.5,712.1 L237.5,711.3 L237.6,710.5 L237.6,709.7 L237.6,708.9 L237.7,708.1 L237.7,707.3 L237.8,706.5 L237.8,705.7 L237.8,704.9 L237.9,704.1 L237.9,703.3 L237.9,702.5 L238.0,701.7 L238.0,700.9 L238.0,700.1 L238.1,699.3 L238.1,698.5 L238.1,697.8 L238.2,697.0 L238.2,696.2 L238.2,695.4 L238.3,694.6 L238.3,693.8 L238.3,693.0 L238.4,692.2 L238.4,691.4 L238.4,690.6 L238.5,689.8 L238.5,689.0 L238.5,688.2 L238.6,687.4 L238.6,686.6 L238.6,685.8 L238.7,685.0 L238.7,684.2 L238.7,683.4 L238.8,682.6 L238.8,681.8 L238.8,681.0 L238.9,680.2 L238.9,679.4 L239.0,678.6 L239.0,677.8 L239.0,677.0 L239.1,676.2 L239.1,675.4 L239.2,674.6 L239.2,673.8 L239.3,673.0 L239.3,672.2 L239.3,671.4 L239.4,670.6 L239.4,669.8 L239.5,669.0 L239.5,668.2 L239.5,667.4 L239.6,666.6 L239.6,665.8 L239.7,665.0 L239.7,664.2 L239.8,663.4 L239.8,662.6 L239.8,661.8 L239.9,661.0 L239.9,660.2 L240.0,659.4 L240.0,658.6 L240.1,657.8 L240.1,657.0 L240.1,656.2 L240.2,655.4 L240.2,654.6 L240.3,653.8 L240.3,653.0 L240.3,652.2 L240.4,651.4 L240.4,650.6 L240.5,649.8 L240.5,649.0 L240.5,648.2 L240.6,647.4 L240.6,646.6 L240.7,645.8 L240.7,645.0 L240.7,644.2 L240.8,643.4 L240.8,642.6 L240.9,641.8 L240.9,641.0 L240.9,640.2 L241.0,639.4 L241.0,638.6 L241.0,637.8 L241.1,637.0 L241.1,636.2 L241.2,635.4 L241.2,634.6 L241.2,633.8 L241.3,633.0 L241.3,632.2 L241.3,631.4 L241.4,630.6 L241.4,629.8 L241.5,629.0 L241.5,628.2 L241.5,627.4 L241.6,626.6 L241.6,625.8 L241.7,625.0 L241.7,624.2 L241.7,623.4 L241.8,622.6 L241.8,621.8 L241.8,621.0 L241.9,620.2 L241.9,619.4 L242.0,618.6 L242.0,617.8 L242.1,617.0 L242.1,616.2 L242.1,615.4 L242.2,614.6 L242.2,613.8 L242.3,613.0 L242.3,612.3 L242.3,611.5 L242.4,610.7 L242.4,609.9 L242.5,609.1 L242.5,608.3 L242.6,607.5 L242.6,606.7 L242.7,605.9 L242.7,605.1 L242.7,604.3 L242.8,603.5 L242.8,602.7 L242.9,601.9 L242.9,601.1 L243.0,600.3 L243.0,599.5 L243.1,598.7 L243.1,597.9 L243.2,597.1 L243.2,596.3 L243.3,595.5 L243.3,594.7 L243.4,593.9 L243.4,593.1 L243.5,592.3 L243.6,591.5 L243.6,590.7 L243.7,589.9 L243.7,589.1 L243.8,588.3 L243.8,587.5 L243.9,586.7 L243.9,585.9 L244.0,585.1 L244.1,584.3 L244.1,583.5 L244.2,582.7 L244.2,581.9 L244.3,581.1 L244.4,580.3 L244.4,579.5 L244.5,578.7 L244.5,577.9 L244.6,577.1 L244.7,576.3 L244.7,575.5 L244.8,574.7 L244.9,573.9 L244.9,573.1 L245.0,572.3 L245.0,571.5 L245.1,570.7 L245.2,569.9 L245.2,569.2 L245.3,568.4 L245.4,567.6 L245.4,566.8 L245.5,566.0 L245.6,565.2 L245.6,564.4 L245.7,563.6 L245.8,562.8 L245.8,562.0 L245.9,561.2 L246.0,560.4 L246.0,559.6 L246.1,558.8 L246.2,558.0 L246.2,557.2 L246.3,556.4 L246.4,555.6 L246.4,554.8 L246.5,554.0 L246.5,553.2 L246.6,552.4 L246.7,551.6 L246.7,550.8 L246.8,550.0 L246.8,549.2 L246.9,548.4 L247.0,547.6 L247.0,546.8 L247.1,546.0 L247.2,545.2 L247.2,544.4 L247.3,543.6 L247.4,542.8 L247.4,542.0 L247.5,541.2 L247.6,540.4 L247.7,539.6 L247.7,538.8 L247.8,538.0 L247.9,537.2 L248.0,536.4 L248.1,535.6 L248.2,534.8 L248.3,534.0 L248.4,533.2 L248.5,532.5 L248.6,531.7 L248.7,530.9 L248.8,530.1 L248.9,529.3 L249.1,528.5 L249.2,527.6 L249.4,526.7 L249.6,525.6 L249.8,524.6 L250.1,523.6 L250.3,522.7 L250.6,521.8 L250.8,521.1 L251.1,520.5 L251.3,520.2 L251.6,520.0 L251.8,520.1 L252.1,520.4 L252.3,521.0 L252.6,521.7 L252.9,522.5 L253.2,523.4 L253.4,524.4 L253.7,525.4 L253.9,526.4 L254.1,527.4 L254.3,528.3 L254.5,529.0 L254.7,529.8 L254.9,530.6 L255.0,531.4 L255.2,532.1 L255.3,532.9 L255.5,533.7 L255.6,534.5 L255.8,535.3 L255.9,536.1 L256.0,536.9 L256.2,537.7 L256.3,538.4 L256.4,539.2 L256.5,540.0 L256.7,540.8 L256.8,541.6 L256.9,542.4 L257.0,543.2 L257.1,544.0 L257.2,544.8 L257.4,545.6 L257.5,546.4 L257.6,547.2 L257.7,548.0 L257.8,548.8 L257.9,549.6 L258.1,550.4 L258.2,551.2 L258.2,552.0 L258.3,552.9 L258.4,553.8 L258.5,554.7 L258.5,555.6 L258.6,556.5 L258.7,557.4 L258.7,558.3 L258.8,559.2 L258.9,560.1 L259.0,561.0 L259.1,561.8 L259.2,562.6 L259.3,563.3 L259.4,564.0 L259.6,564.7 L259.7,565.3 L259.9,565.9 L260.1,566.3 L260.5,566.7 L261.5,567.0 L262.3,568.6 L262.4,569.6 L262.5,568.8 L262.5,568.2 L262.6,568.6 L262.6,569.3 L262.6,570.2 L262.7,572.1 L262.7,573.3 L262.7,574.0 L262.7,574.7 L262.7,574.5 L262.7,575.4 L262.8,576.0 L262.8,577.3 L262.8,578.9 L262.8,578.6 L262.8,578.2 L262.8,579.8 L262.8,580.5 L262.8,580.9 L262.8,582.7 L262.8,585.4 L262.9,586.8 L262.9,586.5 L262.9,588.0 L262.9,588.8 L262.9,588.1 L263.0,589.2 L263.0,590.4 L263.1,590.9 L263.1,590.6 L263.2,592.3 L263.3,594.7 L263.4,596.2 L263.5,596.9 L263.6,596.7 L263.7,598.3 L263.8,598.2 L264.0,597.6 L264.1,599.2 L264.3,599.9 L264.4,601.0 L264.5,601.8 L264.7,603.3 L264.8,603.5 L265.0,603.9 L265.1,605.4 L265.3,605.8 L265.4,606.3 L265.5,607.8 L265.7,607.6 L265.8,607.8 L265.9,608.4 L266.0,608.7 L266.1,610.6 L266.2,612.9 L266.3,612.3 L266.4,612.8 L266.5,613.1 L266.6,614.5 L266.7,617.0 L266.8,617.5 L266.9,617.1 L267.0,617.7 L267.1,618.0 L267.2,618.6 L267.3,619.3 L267.4,620.4 L267.5,622.3 L267.6,623.6 L267.7,624.2 L267.8,624.1 L267.9,624.1 L268.0,625.4 L268.1,626.3 L268.1,628.2 L268.2,629.3 L268.3,629.9 L268.5,629.4 L268.6,629.5 L268.7,632.2 L268.8,633.2 L268.9,632.3 L269.0,634.0 L269.1,635.5 L269.2,635.5 L269.4,637.4 L269.5,637.0 L269.6,637.3 L269.8,639.6 L269.9,639.9 L270.0,640.1 L270.2,641.1 L270.3,641.0 L270.5,643.4 L270.6,643.3 L270.7,644.1 L270.9,644.9 L271.0,646.3 L271.1,647.2 L271.2,647.2 L271.3,648.5 L271.4,648.8 L271.4,649.1 L271.5,650.0 L271.6,650.4 L271.7,651.6 L271.7,653.6 L271.8,654.3 L271.9,655.7 L272.0,655.9 L272.1,655.1 L272.2,655.1 L272.3,656.9 L272.4,658.7 L272.5,659.3 L272.7,659.8 L272.9,661.1 L273.0,660.2 L273.4,660.9 L273.9,663.4 L274.3,665.7 L274.5,665.1 L274.7,664.7 L274.9,666.4 L275.0,667.7 L275.2,668.3 L275.3,668.0 L275.4,668.4 L275.5,669.9 L275.6,671.5 L275.7,673.5 L275.8,674.2 L275.9,672.9 L276.0,673.3 L276.0,674.5 L276.1,675.5 L276.2,676.8 L276.3,677.8 L276.4,678.7 L276.6,679.9 L276.7,679.5 L276.9,679.0 L277.0,679.3 L277.2,680.3 L277.5,681.0 L277.7,681.8 L278.0,684.2 L278.3,685.1 L278.6,685.1 L278.8,685.2 L279.1,685.4 L279.3,687.3 L279.5,689.4 L279.6,688.2 L279.8,690.0 L280.0,691.7 L280.2,692.1 L280.3,692.6 L280.5,693.7 L280.7,693.7 L280.8,695.5 L281.0,696.8 L281.1,695.9 L281.3,696.4 L281.4,698.3 L281.6,700.1 L281.8,701.2 L281.9,701.2 L282.1,700.6 L282.3,701.0 L282.4,702.8 L282.6,703.7 L282.8,703.6 L283.0,705.0 L283.3,706.5 L283.5,707.3 L283.7,707.1 L284.0,708.1 L284.2,708.1 L284.5,709.0 L284.7,710.7 L285.0,713.3 L285.2,715.2 L285.5,714.0 L285.8,714.3 L286.0,714.8 L286.3,714.4 L286.6,715.7 L286.8,716.2 L287.1,718.7 L287.4,719.8 L287.6,719.4 L287.8,719.5 L288.1,721.6 L288.3,721.8 L288.6,722.2 L288.8,722.7 L289.1,722.3 L289.3,724.4 L289.6,726.0 L289.8,726.3 L290.1,726.5 L290.4,726.7 L290.7,728.3 L291.0,729.1 L291.3,729.4 L291.6,729.9 L291.9,731.7 L292.3,732.9 L292.7,733.1 L293.1,734.1 L293.6,735.3 L294.0,735.9 L294.5,735.4 L295.0,735.3 L295.5,735.7 L296.0,736.8 L296.6,738.1 L297.1,738.8 L297.6,738.5 L298.2,738.9 L298.7,739.4 L299.2,741.0 L299.8,741.1 L300.3,741.6 L300.9,741.6 L301.4,742.1 L302.0,743.1 L302.6,745.1 L303.2,745.1 L303.8,744.6 L304.4,744.4 L305.1,745.2 L305.7,747.0 L306.4,747.8 L307.0,746.2 L307.7,746.4 L308.4,747.5 L309.1,747.5 L309.8,747.4 L310.5,749.0 L311.2,749.8 L311.9,749.0 L312.6,750.4 L313.4,751.8 L314.1,752.0 L314.8,751.9 L315.5,753.6 L316.3,752.8 L317.0,752.1 L317.8,752.9 L318.5,752.5 L319.3,753.3 L320.0,752.9 L320.8,753.9 L321.6,754.1 L322.4,755.2 L323.1,755.5 L323.9,755.2 L324.7,755.3 L325.5,755.3 L326.2,754.0 L327.0,755.1 L327.8,755.8 L328.6,756.1 L329.4,757.2 L330.2,758.7 L331.0,756.8 L331.9,756.3 L332.7,756.4 L333.5,756.5 L334.3,755.0 L335.1,756.5 L335.9,755.2 L336.7,753.6 L337.5,754.4 L338.3,755.6 L339.1,756.1 L339.8,756.2 L340.6,756.6 L341.3,755.9 L342.1,754.8 L342.8,753.4 L343.6,754.6 L344.2,754.9 L344.8,753.1 L345.4,751.1 L346.0,751.5 L346.5,752.8 L347.0,751.1 L347.6,749.8 L348.0,749.4 L348.5,749.5 L348.9,748.1 L349.3,746.7 L349.7,745.8 L350.0,746.3 L350.4,746.6 L350.7,745.6 L351.1,745.2 L351.4,744.2 L351.7,743.2 L352.0,742.5 L352.3,741.9 L352.6,741.8 L352.9,740.6 L353.2,739.0 L353.4,738.5 L353.7,737.9 L354.0,737.4 L354.2,736.6 L354.5,735.4 L354.7,733.7 L355.0,734.1 L355.2,733.9 L355.4,732.0 L355.6,732.6 L355.9,731.4 L356.1,729.4 L356.3,728.0 L356.5,728.6 L356.7,727.0 L356.9,726.4 L357.2,726.2 L357.4,724.4 L357.5,723.2 L357.7,722.6 L357.9,722.8 L358.1,722.8 L358.2,722.1 L358.4,721.0 L358.6,719.8 L358.7,718.9 L358.9,718.3 L359.0,719.0 L359.2,716.9 L359.3,714.1 L359.5,714.2 L359.6,715.0 L359.8,712.8 L359.9,712.2 L360.1,711.9 L360.2,710.7 L360.4,711.5 L360.6,711.1 L360.7,709.0 L360.9,708.5 L361.1,706.6 L361.3,705.6 L361.5,705.8 L361.7,705.1 L361.9,704.0 L362.1,703.5 L362.3,701.3 L362.5,700.2 L362.7,699.7 L363.0,700.1 L363.2,699.6 L363.5,698.0 L363.7,695.8 L364.0,695.5 L364.2,694.7 L364.5,692.4 L364.8,692.1 L365.1,692.8 L365.4,692.5 L365.7,691.7 L366.0,691.3 L366.3,690.9 L366.6,690.5 L367.0,690.1 L367.4,689.8 L367.9,690.4 L368.4,691.8 L368.9,694.1 L369.5,693.9 L370.0,693.9 L370.5,694.5 L371.0,695.4 L371.4,696.3 L371.8,697.5 L372.1,698.2 L372.4,699.0 L372.7,699.0 L373.0,700.3 L373.3,701.2 L373.5,700.8 L373.8,702.1 L374.1,703.2 L374.3,703.4 L374.5,703.6 L374.8,704.0 L375.0,706.3 L375.2,706.1 L375.4,706.6 L375.7,708.2 L375.9,708.2 L376.1,710.4 L376.3,711.6 L376.5,712.1 L376.7,712.0 L376.9,711.6 L377.1,712.4 L377.3,715.2 L377.4,715.3 L377.6,716.1 L377.8,718.0 L378.0,717.6 L378.1,718.2 L378.3,719.1 L378.4,719.7 L378.6,719.9 L378.7,721.3 L378.9,723.6 L379.0,723.5 L379.2,721.4 L379.3,722.6 L379.5,725.4 L379.7,726.4 L379.8,727.2 L380.0,728.3 L380.2,728.0 L380.3,730.1 L380.5,730.9 L380.7,731.7 L380.9,732.5 L381.1,733.4 L381.3,733.3 L381.6,733.9 L381.8,735.5 L382.0,735.8 L382.3,735.9 L382.5,738.4 L382.8,739.8 L383.1,740.4 L383.3,740.2 L383.6,740.6 L383.9,740.7 L384.2,741.0 L384.5,742.5 L384.9,743.3 L385.2,744.1 L385.6,745.6 L385.9,744.4 L386.3,744.8 L386.7,746.3 L387.2,748.2 L387.6,748.2 L388.1,748.3 L388.6,748.6 L389.2,749.1 L389.8,750.1 L390.4,752.3 L391.0,753.3 L391.6,753.6 L392.2,753.6 L392.9,755.1 L393.5,753.1 L394.2,751.8 L394.9,753.2 L395.6,754.2 L396.3,754.4 L397.1,753.6 L397.9,754.8 L398.7,755.5 L399.5,753.8 L400.3,753.0 L401.1,752.8 L402.0,754.3 L402.8,755.4 L403.7,755.5 L404.5,755.7 L405.4,755.9 L406.2,755.2 L407.0,755.0 L407.8,753.8 L408.6,753.7 L409.4,754.3 L410.2,754.0 L411.1,755.1 L411.9,755.8 L412.7,754.9 L413.5,753.7 L414.3,753.9 L415.1,755.0 L416.0,754.1 L416.8,754.1 L417.6,754.1 L418.4,754.5 L419.2,754.9 L420.0,753.6 L420.7,753.1 L421.5,754.8 L422.3,754.7 L423.0,754.5 L423.8,754.1 L424.5,754.5 L425.2,754.9 L425.9,754.3 L426.6,752.6 L427.3,751.8 L428.0,751.9 L428.7,751.5 L429.3,750.9 L430.0,749.0 L430.7,747.7 L431.4,749.1 L432.1,749.7 L432.9,749.7 L433.6,750.0 L434.3,749.1 L435.1,748.0 L435.9,748.3 L436.6,747.9 L437.4,748.3 L438.2,747.7 L439.0,747.3 L439.8,747.0 L440.6,746.2 L441.4,745.2 L442.2,745.3 L443.0,744.4 L443.8,746.1 L444.6,747.5 L445.4,748.0 L446.2,746.7 L447.0,745.1 L447.8,745.1 L448.6,746.8 L449.4,745.7 L450.2,745.8 L451.0,744.4 L451.8,745.6 L452.6,746.7 L453.4,746.6 L454.2,746.0 L455.0,745.2 L455.8,745.5 L456.6,746.9 L457.4,746.8 L458.2,746.2 L459.0,746.1 L459.8,745.8 L460.6,747.1 L461.4,747.3 L462.2,745.9 L463.0,746.3 L463.8,746.8 L464.6,746.4 L465.4,748.0 L466.2,747.8 L467.0,746.5 L467.8,747.2 L468.6,747.3 L469.4,745.6 L470.2,746.1 L471.0,745.9 L471.8,745.8 L472.6,746.2 L473.4,745.2 L474.2,744.1 L475.0,744.2 L475.8,745.4 L476.6,746.1 L477.4,745.7 L478.2,745.4 L479.0,745.7 L479.8,746.6 L480.6,745.9 L481.4,744.7 L482.2,745.0 L482.9,745.7 L483.7,744.6 L484.5,744.2 L485.3,744.1 L486.1,743.8 L486.9,744.1 L487.7,743.0 L488.5,744.4 L489.2,743.5 L490.0,742.6 L490.8,742.9 L491.6,742.2 L492.4,743.4 L493.2,743.6 L494.0,742.5 L494.8,742.5 L495.6,743.0 L496.4,742.1 L497.1,742.2 L497.9,742.8 L498.7,743.2 L499.5,741.9 L500.3,742.0 L501.1,742.0 L501.9,739.9 L502.7,740.3 L503.5,739.6 L504.3,740.2 L505.1,742.8 L505.9,742.8 L506.7,742.9 L507.5,742.1 L508.3,742.0 L509.1,741.3 L509.9,741.1 L510.7,741.5 L511.5,742.2 L512.3,742.9 L513.1,742.1 L513.9,741.9 L514.7,741.6 L515.5,741.4 L516.3,741.0 L517.1,742.1 L517.9,741.6 L518.7,741.5 L519.5,741.8 L520.3,742.6 L521.1,742.4 L521.9,741.9 L522.7,741.9 L523.5,742.2 L524.3,742.5 L525.1,742.7 L525.9,743.3 L526.7,743.5 L527.5,742.3 L528.3,741.4 L529.1,743.5 L529.9,744.1 L530.6,742.2 L531.4,741.1 L532.2,740.7 L533.0,742.2 L533.8,742.4 L534.6,743.2 L535.4,741.3 L536.2,742.5 L537.0,743.5 L537.8,742.8 L538.6,742.6 L539.4,743.3 L540.2,743.1 L541.0,743.3 L541.7,743.6 L542.5,743.4 L543.3,743.9 L544.1,744.6 L544.9,744.2 L545.7,744.2 L546.5,744.1 L547.3,744.7 L548.1,744.0 L548.9,744.2 L549.7,742.2 L550.5,742.7 L551.3,743.5 L552.1,745.2 L552.9,745.0 L553.7,743.7 L554.5,744.5 L555.3,745.9 L556.1,745.4 L556.9,745.1 L557.7,743.6 L558.5,743.6 L559.3,745.8 L560.1,747.0 L560.9,745.5 L561.7,745.3 L562.5,744.9 L563.3,745.9 L564.1,745.1 L564.9,744.3 L565.7,743.5 L566.5,744.5 L567.3,745.7 L568.1,746.1 L568.9,744.9 L569.7,745.6 L570.5,745.2 L571.3,744.7 L572.1,743.9 L572.9,743.3 L573.7,744.2 L574.5,745.9 L575.3,744.6 L576.1,744.9 L576.9,745.4 L577.7,743.9 L578.5,744.9 L579.3,745.0 L580.1,745.5 L580.9,745.9 L581.7,745.3 L582.5,745.2 L583.3,745.9 L584.1,745.7 L584.9,744.8 L585.7,744.5 L586.5,744.4 L587.3,745.6 L588.1,744.6 L588.9,745.5 L589.7,746.8 L590.5,746.1 L591.3,744.8 L592.1,744.1 L592.9,744.4 L593.7,745.4 L594.4,745.2 L595.2,745.4 L596.0,746.4 L596.8,744.3 L597.6,743.5 L598.4,743.7 L599.2,744.2 L600.0,744.1 L600.8,743.8 L601.6,744.3 L602.4,744.0 L603.2,742.6 L604.0,741.4 L604.8,742.8 L605.6,742.2 L606.3,742.0 L607.1,742.1 L607.9,741.3 L608.7,741.5 L609.5,742.1 L610.3,742.1 L611.1,742.1 L611.9,741.4 L612.7,741.2 L613.5,740.8 L614.3,741.2 L615.1,741.7 L615.9,740.9 L616.6,740.1 L617.4,740.7 L618.2,741.5 L619.0,741.9 L619.8,741.0 L620.6,740.1 L621.4,740.1 L622.2,741.6 L623.0,739.9 L623.8,739.1 L624.6,739.2 L625.3,738.8 L626.1,740.4 L626.9,740.4 L627.7,739.9 L628.5,738.8 L629.3,739.0 L630.1,740.1 L630.9,740.9 L631.7,741.9 L632.0,740.7" stroke="#c9161d" stroke-width="2.8"/>
<path d="M44.8,788.0 L204.4,788.0 L220.8,787.9 L221.8,787.9 L222.8,787.6 L223.7,787.1 L224.5,786.5 L225.1,785.8 L225.6,785.0 L226.7,782.0 L227.7,778.2 L229.2,770.3 L230.7,760.4 L234.0,733.6 L236.5,715.8 L237.6,708.8 L239.5,697.8 L240.4,693.9 L240.9,692.0 L241.6,690.3 L242.9,688.4 L243.6,687.6 L244.4,687.1 L245.1,687.2 L245.8,687.9 L246.6,688.9 L247.5,690.6 L248.1,692.5 L249.7,699.4 L252.3,713.2 L255.3,725.9 L256.6,730.7 L258.1,735.4 L259.9,740.2 L261.5,743.9 L263.0,746.5 L264.6,748.9 L266.7,751.2 L268.2,752.5 L269.9,753.6 L272.6,754.7 L275.5,755.6 L278.5,756.2 L284.4,756.8 L291.4,757.3 L306.5,757.8 L315.5,758.1 L321.5,758.1 L328.5,758.0 L344.4,757.3 L349.4,756.9 L355.4,756.2 L371.2,753.8 L381.1,752.0 L390.0,750.7 L393.9,750.2 L397.9,749.9 L405.9,750.1 L419.9,751.0 L425.9,751.5 L438.8,753.0 L458.7,755.0 L464.7,755.5 L470.7,755.6 L475.7,755.5 L481.7,755.1 L498.6,753.5 L505.5,752.6 L517.4,750.6 L523.3,749.7 L537.2,748.1 L541.2,747.8 L545.2,747.6 L563.2,747.4 L583.2,747.3 L590.2,747.5 L607.2,748.1 L632.0,748.6" stroke="#0a0a0a" stroke-width="2.8" stroke-dasharray="5.6 2.6"/>
<path d="M44.8,788.0 L214.1,787.9 L220.8,787.9 L221.8,787.8 L222.8,787.4 L223.7,786.9 L224.3,786.3 L224.8,785.5 L225.6,783.5 L226.4,780.6 L226.9,778.6 L228.2,771.7 L229.2,765.8 L230.4,756.9 L233.3,733.1 L235.1,720.2 L236.9,708.3 L239.5,693.4 L240.5,689.6 L241.1,687.8 L241.6,686.7 L242.2,685.7 L242.9,684.8 L243.6,684.2 L244.2,684.2 L244.9,684.8 L246.1,686.7 L246.9,688.5 L247.5,690.5 L248.9,695.3 L251.4,706.0 L253.5,713.7 L255.5,720.5 L257.3,726.2 L259.4,731.8 L261.0,735.6 L262.8,739.1 L264.3,741.6 L266.3,743.9 L267.8,745.3 L269.3,746.6 L272.6,748.8 L276.2,750.6 L280.0,752.1 L284.7,753.5 L289.6,754.7 L294.5,755.7 L299.5,756.4 L306.4,757.1 L321.4,758.2 L335.4,759.4 L343.4,759.8 L355.4,759.6 L369.3,759.1 L372.3,758.7 L379.2,757.4 L382.2,756.9 L384.2,756.8 L394.2,756.6 L403.2,756.7 L418.2,757.3 L444.1,757.8 L464.1,758.5 L474.1,758.6 L488.1,758.2 L504.1,757.5 L515.1,757.0 L528.1,756.2 L543.0,754.8 L549.0,754.4 L599.9,751.7 L614.9,751.2 L632.0,750.9" stroke="#0a0a0a" stroke-width="2.7"/>
</g>
<g fill="none" stroke="#0a0a0a" stroke-width="2.65" stroke-linecap="butt">
<line x1="44.8" y1="518.45" x2="632.4" y2="518.45"/>
<line x1="301.75" y1="234.5" x2="301.75" y2="802.25" stroke="#2b5a18" stroke-width="2.4"/>
<rect x="44.8" y="4.5" width="587.6" height="222.9"/>
<rect x="44.8" y="234.5" width="587.6" height="567.8"/>
</g>
<g stroke="#0a0a0a" stroke-width="2.5">
<line x1="118.2" y1="234.5" x2="118.2" y2="242.0"/>
<line x1="118.2" y1="511.1" x2="118.2" y2="525.7"/>
<line x1="118.2" y1="794.8" x2="118.2" y2="802.25"/>
<line x1="191.7" y1="234.5" x2="191.7" y2="242.0"/>
<line x1="191.7" y1="511.1" x2="191.7" y2="525.7"/>
<line x1="191.7" y1="794.8" x2="191.7" y2="802.25"/>
<line x1="265.1" y1="234.5" x2="265.1" y2="242.0"/>
<line x1="265.1" y1="511.1" x2="265.1" y2="525.7"/>
<line x1="265.1" y1="794.8" x2="265.1" y2="802.25"/>
<line x1="338.6" y1="234.5" x2="338.6" y2="242.0"/>
<line x1="338.6" y1="511.1" x2="338.6" y2="525.7"/>
<line x1="338.6" y1="794.8" x2="338.6" y2="802.25"/>
<line x1="412.1" y1="234.5" x2="412.1" y2="242.0"/>
<line x1="412.1" y1="511.1" x2="412.1" y2="525.7"/>
<line x1="412.1" y1="794.8" x2="412.1" y2="802.25"/>
<line x1="485.5" y1="234.5" x2="485.5" y2="242.0"/>
<line x1="485.5" y1="511.1" x2="485.5" y2="525.7"/>
<line x1="485.5" y1="794.8" x2="485.5" y2="802.25"/>
<line x1="558.9" y1="234.5" x2="558.9" y2="242.0"/>
<line x1="558.9" y1="511.1" x2="558.9" y2="525.7"/>
<line x1="558.9" y1="794.8" x2="558.9" y2="802.25"/>
<line x1="44.8" y1="503.9" x2="52.3" y2="503.9"/>
<line x1="624.9" y1="503.9" x2="632.4" y2="503.9"/>
<line x1="44.8" y1="432.0" x2="52.3" y2="432.0"/>
<line x1="624.9" y1="432.0" x2="632.4" y2="432.0"/>
<line x1="44.8" y1="360.2" x2="52.3" y2="360.2"/>
<line x1="624.9" y1="360.2" x2="632.4" y2="360.2"/>
<line x1="44.8" y1="288.3" x2="52.3" y2="288.3"/>
<line x1="624.9" y1="288.3" x2="632.4" y2="288.3"/>
<line x1="44.8" y1="788.0" x2="52.3" y2="788.0"/>
<line x1="624.9" y1="788.0" x2="632.4" y2="788.0"/>
<line x1="44.8" y1="716.1" x2="52.3" y2="716.1"/>
<line x1="624.9" y1="716.1" x2="632.4" y2="716.1"/>
<line x1="44.8" y1="644.3" x2="52.3" y2="644.3"/>
<line x1="624.9" y1="644.3" x2="632.4" y2="644.3"/>
<line x1="44.8" y1="572.4" x2="52.3" y2="572.4"/>
<line x1="624.9" y1="572.4" x2="632.4" y2="572.4"/>
</g>
<g fill="#0c0c0c" stroke="#0c0c0c" stroke-width="0.35">
<text x="51.3" y="25.0" font-size="25" font-weight="bold" stroke="#111" stroke-width="0.5">A</text>
<text x="50.0" y="256.6" font-size="25" font-weight="bold" stroke="#111" stroke-width="0.5">B</text>
<text x="50.8" y="540.2" font-size="25" font-weight="bold" stroke="#111" stroke-width="0.5">C</text>
<text x="108.4" y="272.7" font-size="24.8">PS</text>
<text x="94.2" y="553.8" font-size="24.7">PS &amp; PC</text>
<text x="44.8" y="831.4" font-size="22.2" text-anchor="middle">0</text>
<text x="118.2" y="831.4" font-size="22.2" text-anchor="middle">0.1</text>
<text x="191.7" y="831.4" font-size="22.2" text-anchor="middle">0.2</text>
<text x="265.1" y="831.4" font-size="22.2" text-anchor="middle">0.3</text>
<text x="338.6" y="831.4" font-size="22.2" text-anchor="middle">0.4</text>
<text x="412.1" y="831.4" font-size="22.2" text-anchor="middle">0.5</text>
<text x="485.5" y="831.4" font-size="22.2" text-anchor="middle">0.6</text>
<text x="558.9" y="831.4" font-size="22.2" text-anchor="middle">0.7</text>
<text x="632.2" y="831.4" font-size="22.2" text-anchor="middle">0.8</text>
<text x="36.9" y="512.6" font-size="22.2" text-anchor="end">0</text>
<text x="36.9" y="440.7" font-size="22.2" text-anchor="end">1</text>
<text x="36.9" y="368.9" font-size="22.2" text-anchor="end">2</text>
<text x="36.9" y="297.0" font-size="22.2" text-anchor="end">3</text>
<text transform="translate(20.3,359.7) rotate(-90)" font-size="24.6" text-anchor="middle">RDF to water</text>
<text x="36.9" y="796.7" font-size="22.2" text-anchor="end">0</text>
<text x="36.9" y="724.8" font-size="22.2" text-anchor="end">1</text>
<text x="36.9" y="653.0" font-size="22.2" text-anchor="end">2</text>
<text x="36.9" y="581.1" font-size="22.2" text-anchor="end">3</text>
<text transform="translate(20.3,643.8) rotate(-90)" font-size="24.6" text-anchor="middle">RDF to water</text>
<text x="338.2" y="850.6" font-size="24.1" text-anchor="middle">distance (nm)</text>
<line x1="413.1" y1="269.1" x2="438.7" y2="269.1" stroke="#c9161d" stroke-width="2.6" stroke-dasharray="6 2.3"/>
<text x="444.6" y="277.4" font-size="22">sn2 near Ca<tspan font-size="14" dy="-8.2">2+</tspan></text>
<line x1="413.1" y1="299.3" x2="438.7" y2="299.3" stroke="#c9161d" stroke-width="2.6"/>
<text x="444.6" y="301.7" font-size="22">sn1 near Ca<tspan font-size="14" dy="-8.2">2+</tspan></text>
<line x1="413.1" y1="322.5" x2="438.7" y2="322.5" stroke="#0a0a0a" stroke-width="2.6" stroke-dasharray="6 2.3"/>
<text x="444.6" y="326.0" font-size="22">sn2 far from Ca<tspan font-size="14" dy="-8.2">2+</tspan></text>
<line x1="413.1" y1="347.2" x2="438.7" y2="347.2" stroke="#0a0a0a" stroke-width="2.6"/>
<text x="444.6" y="350.4" font-size="22">sn1 far from Ca<tspan font-size="14" dy="-8.2">2+</tspan></text>
<line x1="413.1" y1="553.5" x2="438.7" y2="553.5" stroke="#c9161d" stroke-width="2.6" stroke-dasharray="6 2.3"/>
<text x="444.6" y="561.8" font-size="22">sn2 near Ca<tspan font-size="14" dy="-8.2">2+</tspan></text>
<line x1="413.1" y1="583.7" x2="438.7" y2="583.7" stroke="#c9161d" stroke-width="2.6"/>
<text x="444.6" y="586.1" font-size="22">sn1 near Ca<tspan font-size="14" dy="-8.2">2+</tspan></text>
<line x1="413.1" y1="606.9" x2="438.7" y2="606.9" stroke="#0a0a0a" stroke-width="2.6" stroke-dasharray="6 2.3"/>
<text x="444.6" y="610.4" font-size="22">sn2 far from Ca<tspan font-size="14" dy="-8.2">2+</tspan></text>
<line x1="413.1" y1="631.6" x2="438.7" y2="631.6" stroke="#0a0a0a" stroke-width="2.6"/>
<text x="444.6" y="634.8" font-size="22">sn1 far from Ca<tspan font-size="14" dy="-8.2">2+</tspan></text>
</g>
</svg>
</body></html>
